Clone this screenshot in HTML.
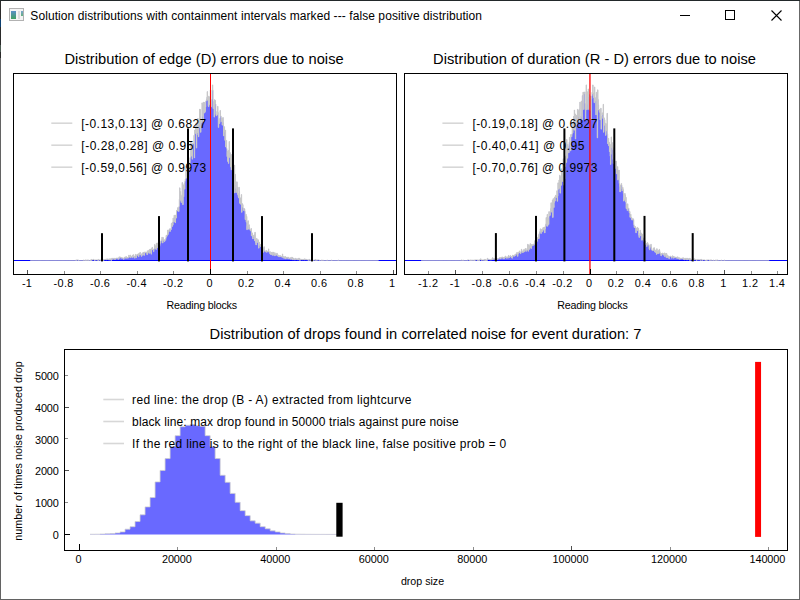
<!DOCTYPE html>
<html><head><meta charset="utf-8"><title>Solution distributions</title>
<style>html,body{margin:0;padding:0;background:#fff;overflow:hidden}svg{display:block}text{font-family:"Liberation Sans",sans-serif;fill:#000}</style>
</head><body>
<svg width="800" height="600" viewBox="0 0 800 600">
<rect x="0" y="0" width="800" height="600" fill="#fff"/>
<g shape-rendering="crispEdges">
<rect x="0" y="0" width="1" height="600" fill="#636363"/>
<rect x="0" y="0" width="1" height="58" fill="#2a2a2a"/>
<rect x="0" y="19" width="1" height="8" fill="#0c3f70"/>
<rect x="0" y="45" width="1" height="7" fill="#4a5a52"/>
<rect x="799" y="0" width="1" height="600" fill="#686868"/>
<rect x="0" y="599" width="800" height="1" fill="#626262"/>
<rect x="0" y="0" width="800" height="1" fill="#22282a"/>
</g>
<g>
<rect x="9.5" y="8.5" width="14" height="12" fill="#f4f4f4" stroke="#b2b2b2" stroke-width="1"/>
<defs><linearGradient id="ig" x1="0" y1="0" x2="0" y2="1"><stop offset="0" stop-color="#5b8fc7"/><stop offset="1" stop-color="#3fa060"/></linearGradient></defs>
<rect x="11" y="11" width="5" height="8" fill="url(#ig)"/>
<rect x="18" y="11" width="2" height="8" fill="#dcdcdc"/>
<rect x="21" y="11" width="2" height="5" fill="url(#ig)" opacity="0.8"/>
</g>
<text x="30.3" y="20" font-size="12" text-anchor="start" textLength="451.7" lengthAdjust="spacing" >Solution distributions with containment intervals marked --- false positive distribution</text>
<path d="M680,15.5 H690" stroke="#000" stroke-width="1" fill="none"/>
<rect x="725.5" y="10.5" width="9" height="9" stroke="#000" stroke-width="1" fill="none"/>
<path d="M771.5,10.5 L781.5,20.5 M781.5,10.5 L771.5,20.5" stroke="#000" stroke-width="1.1" fill="none"/>
<clipPath id="c1"><rect x="13.5" y="73.5" width="383" height="201"/></clipPath>
<g clip-path="url(#c1)">
<path d="M30.27,260.50 L30.27,260.50 30.62,260.50 30.62,260.50 30.97,260.50 30.97,260.50 31.32,260.50 31.32,260.50 31.67,260.50 31.67,260.50 32.01,260.50 32.01,260.50 32.36,260.50 32.36,260.50 32.71,260.50 32.71,260.50 33.06,260.50 33.06,260.50 33.41,260.50 33.41,260.50 33.76,260.50 33.76,260.50 34.10,260.50 34.10,260.50 34.45,260.50 34.45,260.50 34.80,260.50 34.80,260.50 35.15,260.50 35.15,260.50 35.50,260.50 35.50,260.50 35.85,260.50 35.85,260.50 36.19,260.50 36.19,260.50 36.54,260.50 36.54,260.50 36.89,260.50 36.89,260.50 37.24,260.50 37.24,260.50 37.59,260.50 37.59,260.50 37.93,260.50 37.93,260.50 38.28,260.50 38.28,260.50 38.63,260.50 38.63,260.50 38.98,260.50 38.98,260.50 39.33,260.50 39.33,260.50 39.68,260.50 39.68,260.50 40.02,260.50 40.02,260.50 40.37,260.50 40.37,260.50 40.72,260.50 40.72,260.50 41.07,260.50 41.07,260.50 41.42,260.50 41.42,260.50 41.77,260.50 41.77,260.50 42.11,260.50 42.11,260.50 42.46,260.50 42.46,260.50 42.81,260.50 42.81,260.50 43.16,260.50 43.16,260.50 43.51,260.50 43.51,260.50 43.85,260.50 43.85,260.50 44.20,260.50 44.20,260.50 44.55,260.50 44.55,260.50 44.90,260.50 44.90,260.50 45.25,260.50 45.25,260.50 45.60,260.50 45.60,260.50 45.94,260.50 45.94,260.50 46.29,260.50 46.29,260.50 46.64,260.50 46.64,260.50 46.99,260.50 46.99,260.50 47.34,260.50 47.34,260.50 47.68,260.50 47.68,260.50 48.03,260.50 48.03,260.50 48.38,260.50 48.38,260.50 48.73,260.50 48.73,260.50 49.08,260.50 49.08,260.50 49.43,260.50 49.43,260.50 49.77,260.50 49.77,260.50 50.12,260.50 50.12,260.50 50.47,260.50 50.47,260.50 50.82,260.50 50.82,260.50 51.17,260.50 51.17,260.50 51.52,260.50 51.52,260.50 51.86,260.50 51.86,260.50 52.21,260.50 52.21,260.50 52.56,260.50 52.56,260.50 52.91,260.50 52.91,260.50 53.26,260.50 53.26,260.50 53.60,260.50 53.60,260.50 53.95,260.50 53.95,260.50 54.30,260.50 54.30,260.50 54.65,260.50 54.65,260.50 55.00,260.50 55.00,260.50 55.35,260.50 55.35,260.50 55.69,260.50 55.69,260.50 56.04,260.50 56.04,260.50 56.39,260.50 56.39,260.50 56.74,260.50 56.74,260.50 57.09,260.50 57.09,260.50 57.43,260.50 57.43,260.50 57.78,260.50 57.78,260.50 58.13,260.50 58.13,260.50 58.48,260.50 58.48,260.50 58.83,260.50 58.83,260.50 59.18,260.50 59.18,260.50 59.52,260.50 59.52,260.50 59.87,260.50 59.87,260.50 60.22,260.50 60.22,260.50 60.57,260.50 60.57,260.50 60.92,260.50 60.92,260.50 61.27,260.50 61.27,260.50 61.61,260.50 61.61,260.50 61.96,260.50 61.96,260.50 62.31,260.50 62.31,260.50 62.66,260.50 62.66,260.50 63.01,260.50 63.01,260.50 63.35,260.50 63.35,260.50 63.70,260.50 63.70,260.50 64.05,260.50 64.05,260.50 64.40,260.50 64.40,260.50 64.75,260.50 64.75,260.50 65.10,260.50 65.10,260.50 65.44,260.50 65.44,260.50 65.79,260.50 65.79,260.50 66.14,260.50 66.14,260.50 66.49,260.50 66.49,260.50 66.84,260.50 66.84,260.50 67.18,260.50 67.18,260.50 67.53,260.50 67.53,260.50 67.88,260.50 67.88,260.50 68.23,260.50 68.23,260.50 68.58,260.50 68.58,260.50 68.93,260.50 68.93,260.50 69.27,260.50 69.27,260.50 69.62,260.50 69.62,260.50 69.97,260.50 69.97,260.50 70.32,260.50 70.32,260.50 70.67,260.50 70.67,260.50 71.02,260.50 71.02,260.50 71.36,260.50 71.36,260.50 71.71,260.50 71.71,260.50 72.06,260.50 72.06,260.50 72.41,260.50 72.41,260.50 72.76,260.50 72.76,260.50 73.10,260.50 73.10,260.50 73.45,260.50 73.45,260.50 73.80,260.50 73.80,260.50 74.15,260.50 74.15,260.50 74.50,260.50 74.50,260.50 74.85,260.50 74.85,260.50 75.19,260.50 75.19,260.50 75.54,260.50 75.54,260.50 75.89,260.50 75.89,259.93 76.24,259.93 76.24,260.50 76.59,260.50 76.59,259.93 76.94,259.93 76.94,259.93 77.28,259.93 77.28,259.93 77.63,259.93 77.63,259.93 77.98,259.93 77.98,260.50 78.33,260.50 78.33,259.93 78.68,259.93 78.68,260.50 79.02,260.50 79.02,260.50 79.37,260.50 79.37,260.50 79.72,260.50 79.72,260.50 80.07,260.50 80.07,260.50 80.42,260.50 80.42,260.50 80.77,260.50 80.77,260.50 81.11,260.50 81.11,260.50 81.46,260.50 81.46,260.50 81.81,260.50 81.81,260.50 82.16,260.50 82.16,260.50 82.51,260.50 82.51,260.50 82.85,260.50 82.85,260.50 83.20,260.50 83.20,260.50 83.55,260.50 83.55,259.93 83.90,259.93 83.90,260.50 84.25,260.50 84.25,260.50 84.60,260.50 84.60,260.50 84.94,260.50 84.94,259.93 85.29,259.93 85.29,260.50 85.64,260.50 85.64,259.93 85.99,259.93 85.99,260.50 86.34,260.50 86.34,260.50 86.69,260.50 86.69,259.93 87.03,259.93 87.03,260.50 87.38,260.50 87.38,259.93 87.73,259.93 87.73,259.93 88.08,259.93 88.08,260.50 88.43,260.50 88.43,259.93 88.77,259.93 88.77,260.50 89.12,260.50 89.12,260.50 89.47,260.50 89.47,260.50 89.82,260.50 89.82,260.50 90.17,260.50 90.17,259.93 90.52,259.93 90.52,260.50 90.86,260.50 90.86,259.93 91.21,259.93 91.21,260.50 91.56,260.50 91.56,259.36 91.91,259.36 91.91,259.93 92.26,259.93 92.26,259.93 92.60,259.93 92.60,259.93 92.95,259.93 92.95,259.93 93.30,259.93 93.30,259.36 93.65,259.36 93.65,259.36 94.00,259.36 94.00,259.93 94.35,259.93 94.35,260.50 94.69,260.50 94.69,260.50 95.04,260.50 95.04,259.93 95.39,259.93 95.39,259.93 95.74,259.93 95.74,259.93 96.09,259.93 96.09,259.93 96.44,259.93 96.44,259.93 96.78,259.93 96.78,259.93 97.13,259.93 97.13,259.93 97.48,259.93 97.48,259.93 97.83,259.93 97.83,260.50 98.18,260.50 98.18,259.36 98.52,259.36 98.52,260.50 98.87,260.50 98.87,259.93 99.22,259.93 99.22,259.93 99.57,259.93 99.57,259.93 99.92,259.93 99.92,259.93 100.27,259.93 100.27,260.50 100.61,260.50 100.61,259.93 100.96,259.93 100.96,259.93 101.31,259.93 101.31,258.79 101.66,258.79 101.66,259.93 102.01,259.93 102.01,259.93 102.35,259.93 102.35,259.93 102.70,259.93 102.70,259.93 103.05,259.93 103.05,260.50 103.40,260.50 103.40,259.93 103.75,259.93 103.75,259.36 104.10,259.36 104.10,259.93 104.44,259.93 104.44,259.36 104.79,259.36 104.79,259.93 105.14,259.93 105.14,259.36 105.49,259.36 105.49,259.36 105.84,259.36 105.84,259.36 106.19,259.36 106.19,259.36 106.53,259.36 106.53,259.93 106.88,259.93 106.88,258.79 107.23,258.79 107.23,259.36 107.58,259.36 107.58,259.36 107.93,259.36 107.93,259.36 108.27,259.36 108.27,259.36 108.62,259.36 108.62,259.93 108.97,259.93 108.97,258.79 109.32,258.79 109.32,259.93 109.67,259.93 109.67,259.93 110.02,259.93 110.02,259.93 110.36,259.93 110.36,258.79 110.71,258.79 110.71,259.36 111.06,259.36 111.06,260.50 111.41,260.50 111.41,258.79 111.76,258.79 111.76,258.22 112.11,258.22 112.11,258.22 112.45,258.22 112.45,259.36 112.80,259.36 112.80,258.79 113.15,258.79 113.15,258.79 113.50,258.79 113.50,258.22 113.85,258.22 113.85,258.79 114.19,258.79 114.19,259.36 114.54,259.36 114.54,258.22 114.89,258.22 114.89,258.22 115.24,258.22 115.24,259.36 115.59,259.36 115.59,258.79 115.94,258.79 115.94,258.22 116.28,258.22 116.28,258.22 116.63,258.22 116.63,258.22 116.98,258.22 116.98,258.22 117.33,258.22 117.33,258.22 117.68,258.22 117.68,258.22 118.02,258.22 118.02,259.36 118.37,259.36 118.37,258.22 118.72,258.22 118.72,257.65 119.07,257.65 119.07,256.81 119.42,256.81 119.42,258.22 119.77,258.22 119.77,258.22 120.11,258.22 120.11,257.08 120.46,257.08 120.46,257.04 120.81,257.04 120.81,257.65 121.16,257.65 121.16,257.65 121.51,257.65 121.51,258.22 121.86,258.22 121.86,257.65 122.20,257.65 122.20,258.22 122.55,258.22 122.55,258.22 122.90,258.22 122.90,258.22 123.25,258.22 123.25,258.22 123.60,258.22 123.60,259.36 123.94,259.36 123.94,258.22 124.29,258.22 124.29,257.08 124.64,257.08 124.64,257.65 124.99,257.65 124.99,258.22 125.34,258.22 125.34,257.08 125.69,257.08 125.69,256.86 126.03,256.86 126.03,256.62 126.38,256.62 126.38,258.22 126.73,258.22 126.73,257.08 127.08,257.08 127.08,257.65 127.43,257.65 127.43,257.65 127.77,257.65 127.77,258.22 128.12,258.22 128.12,257.08 128.47,257.08 128.47,257.65 128.82,257.65 128.82,255.00 129.17,255.00 129.17,257.08 129.52,257.08 129.52,257.08 129.86,257.08 129.86,256.80 130.21,256.80 130.21,254.96 130.56,254.96 130.56,257.65 130.91,257.65 130.91,256.62 131.26,256.62 131.26,257.08 131.61,257.08 131.61,256.46 131.95,256.46 131.95,256.51 132.30,256.51 132.30,255.19 132.65,255.19 132.65,257.65 133.00,257.65 133.00,255.85 133.35,255.85 133.35,254.63 133.69,254.63 133.69,256.82 134.04,256.82 134.04,256.12 134.39,256.12 134.39,256.78 134.74,256.78 134.74,258.22 135.09,258.22 135.09,256.05 135.44,256.05 135.44,254.32 135.78,254.32 135.78,255.07 136.13,255.07 136.13,257.65 136.48,257.65 136.48,254.98 136.83,254.98 136.83,255.26 137.18,255.26 137.18,254.08 137.53,254.08 137.53,254.62 137.87,254.62 137.87,255.60 138.22,255.60 138.22,254.35 138.57,254.35 138.57,256.76 138.92,256.76 138.92,253.04 139.27,253.04 139.27,254.63 139.61,254.63 139.61,253.28 139.96,253.28 139.96,252.37 140.31,252.37 140.31,254.89 140.66,254.89 140.66,254.69 141.01,254.69 141.01,255.14 141.36,255.14 141.36,256.41 141.70,256.41 141.70,253.80 142.05,253.80 142.05,253.59 142.40,253.59 142.40,255.24 142.75,255.24 142.75,252.68 143.10,252.68 143.10,252.43 143.44,252.43 143.44,252.36 143.79,252.36 143.79,255.19 144.14,255.19 144.14,255.34 144.49,255.34 144.49,252.38 144.84,252.38 144.84,251.89 145.19,251.89 145.19,252.96 145.53,252.96 145.53,252.40 145.88,252.40 145.88,252.48 146.23,252.48 146.23,252.18 146.58,252.18 146.58,252.81 146.93,252.81 146.93,254.73 147.28,254.73 147.28,250.77 147.62,250.77 147.62,253.22 147.97,253.22 147.97,251.86 148.32,251.86 148.32,252.07 148.67,252.07 148.67,250.41 149.02,250.41 149.02,253.32 149.36,253.32 149.36,249.39 149.71,249.39 149.71,250.33 150.06,250.33 150.06,249.88 150.41,249.88 150.41,249.03 150.76,249.03 150.76,252.91 151.11,252.91 151.11,254.18 151.45,254.18 151.45,249.19 151.80,249.19 151.80,247.97 152.15,247.97 152.15,247.29 152.50,247.29 152.50,249.95 152.85,249.95 152.85,249.12 153.19,249.12 153.19,249.97 153.54,249.97 153.54,251.69 153.89,251.69 153.89,249.27 154.24,249.27 154.24,248.34 154.59,248.34 154.59,244.44 154.94,244.44 154.94,248.00 155.28,248.00 155.28,245.83 155.63,245.83 155.63,248.79 155.98,248.79 155.98,249.49 156.33,249.49 156.33,243.15 156.68,243.15 156.68,247.55 157.03,247.55 157.03,245.35 157.37,245.35 157.37,242.95 157.72,242.95 157.72,247.77 158.07,247.77 158.07,247.26 158.42,247.26 158.42,243.65 158.77,243.65 158.77,244.44 159.11,244.44 159.11,246.35 159.46,246.35 159.46,246.24 159.81,246.24 159.81,244.30 160.16,244.30 160.16,241.72 160.51,241.72 160.51,243.02 160.86,243.02 160.86,241.10 161.20,241.10 161.20,239.74 161.55,239.74 161.55,240.11 161.90,240.11 161.90,237.17 162.25,237.17 162.25,238.89 162.60,238.89 162.60,243.04 162.94,243.04 162.94,237.52 163.29,237.52 163.29,239.85 163.64,239.85 163.64,240.54 163.99,240.54 163.99,241.17 164.34,241.17 164.34,241.63 164.69,241.63 164.69,239.75 165.03,239.75 165.03,239.07 165.38,239.07 165.38,240.32 165.73,240.32 165.73,238.45 166.08,238.45 166.08,235.42 166.43,235.42 166.43,236.91 166.78,236.91 166.78,235.00 167.12,235.00 167.12,235.35 167.47,235.35 167.47,230.04 167.82,230.04 167.82,234.53 168.17,234.53 168.17,230.54 168.52,230.54 168.52,232.14 168.86,232.14 168.86,229.86 169.21,229.86 169.21,229.57 169.56,229.57 169.56,228.82 169.91,228.82 169.91,231.48 170.26,231.48 170.26,230.16 170.61,230.16 170.61,228.78 170.95,228.78 170.95,229.50 171.30,229.50 171.30,223.49 171.65,223.49 171.65,223.34 172.00,223.34 172.00,226.44 172.35,226.44 172.35,222.10 172.70,222.10 172.70,225.21 173.04,225.21 173.04,217.95 173.39,217.95 173.39,220.57 173.74,220.57 173.74,221.91 174.09,221.91 174.09,215.16 174.44,215.16 174.44,217.33 174.78,217.33 174.78,221.99 175.13,221.99 175.13,222.76 175.48,222.76 175.48,214.99 175.83,214.99 175.83,217.86 176.18,217.86 176.18,218.09 176.53,218.09 176.53,210.60 176.87,210.60 176.87,210.22 177.22,210.22 177.22,211.02 177.57,211.02 177.57,207.84 177.92,207.84 177.92,207.60 178.27,207.60 178.27,208.05 178.61,208.05 178.61,211.55 178.96,211.55 178.96,206.38 179.31,206.38 179.31,199.21 179.66,199.21 179.66,187.82 180.01,187.82 180.01,200.42 180.36,200.42 180.36,191.46 180.70,191.46 180.70,194.62 181.05,194.62 181.05,202.50 181.40,202.50 181.40,195.77 181.75,195.77 181.75,200.34 182.10,200.34 182.10,182.45 182.45,182.45 182.45,188.10 182.79,188.10 182.79,204.68 183.14,204.68 183.14,184.94 183.49,184.94 183.49,196.76 183.84,196.76 183.84,184.64 184.19,184.64 184.19,183.28 184.53,183.28 184.53,189.14 184.88,189.14 184.88,181.24 185.23,181.24 185.23,179.24 185.58,179.24 185.58,178.74 185.93,178.74 185.93,166.34 186.28,166.34 186.28,176.45 186.62,176.45 186.62,177.91 186.97,177.91 186.97,168.22 187.32,168.22 187.32,175.52 187.67,175.52 187.67,163.45 188.02,163.45 188.02,162.66 188.36,162.66 188.36,157.57 188.71,157.57 188.71,162.73 189.06,162.73 189.06,168.93 189.41,168.93 189.41,164.85 189.76,164.85 189.76,169.29 190.11,169.29 190.11,157.82 190.45,157.82 190.45,157.07 190.80,157.07 190.80,141.69 191.15,141.69 191.15,155.90 191.50,155.90 191.50,149.91 191.85,149.91 191.85,148.75 192.20,148.75 192.20,159.17 192.54,159.17 192.54,142.92 192.89,142.92 192.89,143.58 193.24,143.58 193.24,144.03 193.59,144.03 193.59,143.51 193.94,143.51 193.94,135.36 194.28,135.36 194.28,157.92 194.63,157.92 194.63,130.01 194.98,130.01 194.98,133.60 195.33,133.60 195.33,129.69 195.68,129.69 195.68,126.59 196.03,126.59 196.03,122.74 196.37,122.74 196.37,148.07 196.72,148.07 196.72,135.09 197.07,135.09 197.07,127.06 197.42,127.06 197.42,132.92 197.77,132.92 197.77,118.37 198.11,118.37 198.11,127.48 198.46,127.48 198.46,136.75 198.81,136.75 198.81,120.61 199.16,120.61 199.16,124.99 199.51,124.99 199.51,109.26 199.86,109.26 199.86,127.88 200.20,127.88 200.20,109.59 200.55,109.59 200.55,132.33 200.90,132.33 200.90,120.52 201.25,120.52 201.25,122.96 201.60,122.96 201.60,122.67 201.95,122.67 201.95,102.84 202.29,102.84 202.29,104.56 202.64,104.56 202.64,116.29 202.99,116.29 202.99,122.14 203.34,122.14 203.34,103.25 203.69,103.25 203.69,102.07 204.03,102.07 204.03,113.11 204.38,113.11 204.38,102.59 204.73,102.59 204.73,112.39 205.08,112.39 205.08,111.40 205.43,111.40 205.43,106.97 205.78,106.97 205.78,101.31 206.12,101.31 206.12,100.57 206.47,100.57 206.47,99.13 206.82,99.13 206.82,97.17 207.17,97.17 207.17,91.59 207.52,91.59 207.52,100.26 207.87,100.26 207.87,95.96 208.21,95.96 208.21,106.20 208.56,106.20 208.56,106.64 208.91,106.64 208.91,97.03 209.26,97.03 209.26,104.42 209.61,104.42 209.61,96.66 209.95,96.66 209.95,103.61 210.30,103.61 210.30,89.86 210.65,89.86 210.65,100.29 211.00,100.29 211.00,100.40 211.35,100.40 211.35,106.81 211.70,106.81 211.70,99.54 212.04,99.54 212.04,90.07 212.39,90.07 212.39,84.90 212.74,84.90 212.74,90.28 213.09,90.28 213.09,108.59 213.44,108.59 213.44,107.18 213.78,107.18 213.78,101.54 214.13,101.54 214.13,117.12 214.48,117.12 214.48,99.71 214.83,99.71 214.83,100.41 215.18,100.41 215.18,100.45 215.53,100.45 215.53,104.01 215.87,104.01 215.87,114.57 216.22,114.57 216.22,115.89 216.57,115.89 216.57,115.43 216.92,115.43 216.92,111.32 217.27,111.32 217.27,114.62 217.62,114.62 217.62,106.25 217.96,106.25 217.96,112.56 218.31,112.56 218.31,127.45 218.66,127.45 218.66,120.73 219.01,120.73 219.01,118.65 219.36,118.65 219.36,123.56 219.70,123.56 219.70,122.38 220.05,122.38 220.05,110.41 220.40,110.41 220.40,115.96 220.75,115.96 220.75,115.93 221.10,115.93 221.10,117.73 221.45,117.73 221.45,121.53 221.79,121.53 221.79,118.28 222.14,118.28 222.14,125.15 222.49,125.15 222.49,122.56 222.84,122.56 222.84,117.48 223.19,117.48 223.19,122.68 223.53,122.68 223.53,135.93 223.88,135.93 223.88,129.18 224.23,129.18 224.23,126.70 224.58,126.70 224.58,132.24 224.93,132.24 224.93,140.44 225.28,140.44 225.28,130.12 225.62,130.12 225.62,146.96 225.97,146.96 225.97,144.92 226.32,144.92 226.32,140.40 226.67,140.40 226.67,148.36 227.02,148.36 227.02,156.66 227.37,156.66 227.37,151.58 227.71,151.58 227.71,161.43 228.06,161.43 228.06,150.28 228.41,150.28 228.41,163.41 228.76,163.41 228.76,152.66 229.11,152.66 229.11,141.47 229.45,141.47 229.45,157.40 229.80,157.40 229.80,152.59 230.15,152.59 230.15,154.77 230.50,154.77 230.50,167.00 230.85,167.00 230.85,164.82 231.20,164.82 231.20,169.83 231.54,169.83 231.54,154.53 231.89,154.53 231.89,168.97 232.24,168.97 232.24,159.78 232.59,159.78 232.59,172.04 232.94,172.04 232.94,177.53 233.29,177.53 233.29,174.66 233.63,174.66 233.63,165.47 233.98,165.47 233.98,183.71 234.33,183.71 234.33,165.11 234.68,165.11 234.68,192.99 235.03,192.99 235.03,174.31 235.37,174.31 235.37,185.11 235.72,185.11 235.72,188.39 236.07,188.39 236.07,192.44 236.42,192.44 236.42,190.36 236.77,190.36 236.77,181.77 237.12,181.77 237.12,187.13 237.46,187.13 237.46,194.49 237.81,194.49 237.81,193.35 238.16,193.35 238.16,196.63 238.51,196.63 238.51,198.00 238.86,198.00 238.86,187.27 239.20,187.27 239.20,191.58 239.55,191.58 239.55,203.23 239.90,203.23 239.90,199.35 240.25,199.35 240.25,197.84 240.60,197.84 240.60,204.22 240.95,204.22 240.95,202.22 241.29,202.22 241.29,194.56 241.64,194.56 241.64,212.34 241.99,212.34 241.99,203.61 242.34,203.61 242.34,206.91 242.69,206.91 242.69,204.59 243.04,204.59 243.04,208.17 243.38,208.17 243.38,210.48 243.73,210.48 243.73,208.22 244.08,208.22 244.08,208.67 244.43,208.67 244.43,208.83 244.78,208.83 244.78,211.13 245.12,211.13 245.12,219.53 245.47,219.53 245.47,219.75 245.82,219.75 245.82,214.27 246.17,214.27 246.17,222.18 246.52,222.18 246.52,216.36 246.87,216.36 246.87,229.73 247.21,229.73 247.21,225.91 247.56,225.91 247.56,222.33 247.91,222.33 247.91,220.71 248.26,220.71 248.26,229.15 248.61,229.15 248.61,225.70 248.95,225.70 248.95,224.80 249.30,224.80 249.30,227.59 249.65,227.59 249.65,229.21 250.00,229.21 250.00,230.03 250.35,230.03 250.35,231.02 250.70,231.02 250.70,230.54 251.04,230.54 251.04,228.51 251.39,228.51 251.39,235.90 251.74,235.90 251.74,233.80 252.09,233.80 252.09,232.89 252.44,232.89 252.44,236.77 252.79,236.77 252.79,238.94 253.13,238.94 253.13,235.38 253.48,235.38 253.48,236.48 253.83,236.48 253.83,236.94 254.18,236.94 254.18,234.71 254.53,234.71 254.53,240.81 254.87,240.81 254.87,232.26 255.22,232.26 255.22,239.75 255.57,239.75 255.57,242.85 255.92,242.85 255.92,244.95 256.27,244.95 256.27,242.81 256.62,242.81 256.62,238.37 256.96,238.37 256.96,239.41 257.31,239.41 257.31,240.70 257.66,240.70 257.66,242.49 258.01,242.49 258.01,239.86 258.36,239.86 258.36,245.31 258.70,245.31 258.70,248.15 259.05,248.15 259.05,242.09 259.40,242.09 259.40,245.23 259.75,245.23 259.75,245.02 260.10,245.02 260.10,244.37 260.45,244.37 260.45,246.50 260.79,246.50 260.79,245.12 261.14,245.12 261.14,247.02 261.49,247.02 261.49,249.88 261.84,249.88 261.84,246.30 262.19,246.30 262.19,247.15 262.54,247.15 262.54,248.03 262.88,248.03 262.88,248.29 263.23,248.29 263.23,252.29 263.58,252.29 263.58,250.16 263.93,250.16 263.93,246.73 264.28,246.73 264.28,250.64 264.62,250.64 264.62,250.53 264.97,250.53 264.97,251.76 265.32,251.76 265.32,251.74 265.67,251.74 265.67,250.88 266.02,250.88 266.02,250.95 266.37,250.95 266.37,250.43 266.71,250.43 266.71,252.38 267.06,252.38 267.06,251.08 267.41,251.08 267.41,251.47 267.76,251.47 267.76,251.59 268.11,251.59 268.11,251.29 268.46,251.29 268.46,248.88 268.80,248.88 268.80,251.91 269.15,251.91 269.15,252.44 269.50,252.44 269.50,253.30 269.85,253.30 269.85,251.61 270.20,251.61 270.20,254.22 270.54,254.22 270.54,254.39 270.89,254.39 270.89,254.19 271.24,254.19 271.24,252.49 271.59,252.49 271.59,254.70 271.94,254.70 271.94,252.09 272.29,252.09 272.29,253.49 272.63,253.49 272.63,255.37 272.98,255.37 272.98,254.42 273.33,254.42 273.33,252.11 273.68,252.11 273.68,254.52 274.03,254.52 274.03,255.77 274.37,255.77 274.37,254.06 274.72,254.06 274.72,252.66 275.07,252.66 275.07,253.71 275.42,253.71 275.42,255.59 275.77,255.59 275.77,254.66 276.12,254.66 276.12,255.06 276.46,255.06 276.46,254.19 276.81,254.19 276.81,253.09 277.16,253.09 277.16,255.63 277.51,255.63 277.51,254.48 277.86,254.48 277.86,256.17 278.21,256.17 278.21,255.35 278.55,255.35 278.55,256.53 278.90,256.53 278.90,256.89 279.25,256.89 279.25,255.81 279.60,255.81 279.60,256.57 279.95,256.57 279.95,255.55 280.29,255.55 280.29,256.54 280.64,256.54 280.64,256.09 280.99,256.09 280.99,256.62 281.34,256.62 281.34,257.08 281.69,257.08 281.69,256.48 282.04,256.48 282.04,255.69 282.38,255.69 282.38,253.96 282.73,253.96 282.73,257.65 283.08,257.65 283.08,256.52 283.43,256.52 283.43,256.97 283.78,256.97 283.78,258.22 284.12,258.22 284.12,256.73 284.47,256.73 284.47,258.22 284.82,258.22 284.82,257.65 285.17,257.65 285.17,256.47 285.52,256.47 285.52,258.79 285.87,258.79 285.87,257.08 286.21,257.08 286.21,257.65 286.56,257.65 286.56,258.22 286.91,258.22 286.91,257.08 287.26,257.08 287.26,257.65 287.61,257.65 287.61,258.22 287.96,258.22 287.96,257.08 288.30,257.08 288.30,258.79 288.65,258.79 288.65,257.65 289.00,257.65 289.00,258.22 289.35,258.22 289.35,258.79 289.70,258.79 289.70,258.22 290.04,258.22 290.04,258.22 290.39,258.22 290.39,257.65 290.74,257.65 290.74,259.36 291.09,259.36 291.09,258.79 291.44,258.79 291.44,258.79 291.79,258.79 291.79,257.08 292.13,257.08 292.13,259.36 292.48,259.36 292.48,257.65 292.83,257.65 292.83,259.93 293.18,259.93 293.18,258.22 293.53,258.22 293.53,258.79 293.87,258.79 293.87,258.79 294.22,258.79 294.22,258.79 294.57,258.79 294.57,259.93 294.92,259.93 294.92,259.93 295.27,259.93 295.27,258.22 295.62,258.22 295.62,258.79 295.96,258.79 295.96,259.36 296.31,259.36 296.31,258.79 296.66,258.79 296.66,259.36 297.01,259.36 297.01,259.36 297.36,259.36 297.36,259.93 297.71,259.93 297.71,258.79 298.05,258.79 298.05,258.22 298.40,258.22 298.40,259.93 298.75,259.93 298.75,259.36 299.10,259.36 299.10,258.79 299.45,258.79 299.45,258.22 299.79,258.22 299.79,260.50 300.14,260.50 300.14,259.36 300.49,259.36 300.49,259.36 300.84,259.36 300.84,259.93 301.19,259.93 301.19,259.36 301.54,259.36 301.54,259.36 301.88,259.36 301.88,259.36 302.23,259.36 302.23,259.93 302.58,259.93 302.58,259.36 302.93,259.36 302.93,259.93 303.28,259.93 303.28,259.36 303.63,259.36 303.63,259.36 303.97,259.36 303.97,259.93 304.32,259.93 304.32,259.93 304.67,259.93 304.67,258.79 305.02,258.79 305.02,259.36 305.37,259.36 305.37,259.36 305.71,259.36 305.71,259.93 306.06,259.93 306.06,259.93 306.41,259.93 306.41,259.36 306.76,259.36 306.76,259.36 307.11,259.36 307.11,259.93 307.46,259.93 307.46,259.93 307.80,259.93 307.80,259.93 308.15,259.93 308.15,259.93 308.50,259.93 308.50,260.50 308.85,260.50 308.85,259.36 309.20,259.36 309.20,259.36 309.54,259.36 309.54,259.93 309.89,259.93 309.89,260.50 310.24,260.50 310.24,259.93 310.59,259.93 310.59,259.93 310.94,259.93 310.94,259.93 311.29,259.93 311.29,259.93 311.63,259.93 311.63,259.93 311.98,259.93 311.98,259.93 312.33,259.93 312.33,260.50 312.68,260.50 312.68,260.50 313.03,260.50 313.03,260.50 313.38,260.50 313.38,260.50 313.72,260.50 313.72,259.93 314.07,259.93 314.07,259.93 314.42,259.93 314.42,259.93 314.77,259.93 314.77,259.93 315.12,259.93 315.12,260.50 315.46,260.50 315.46,259.36 315.81,259.36 315.81,259.93 316.16,259.93 316.16,259.93 316.51,259.93 316.51,260.50 316.86,260.50 316.86,260.50 317.21,260.50 317.21,259.93 317.55,259.93 317.55,259.93 317.90,259.93 317.90,259.93 318.25,259.93 318.25,259.93 318.60,259.93 318.60,259.93 318.95,259.93 318.95,259.93 319.29,259.93 319.29,260.50 319.64,260.50 319.64,260.50 319.99,260.50 319.99,260.50 320.34,260.50 320.34,260.50 320.69,260.50 320.69,260.50 321.04,260.50 321.04,260.50 321.38,260.50 321.38,259.93 321.73,259.93 321.73,260.50 322.08,260.50 322.08,260.50 322.43,260.50 322.43,260.50 322.78,260.50 322.78,259.93 323.13,259.93 323.13,260.50 323.47,260.50 323.47,260.50 323.82,260.50 323.82,260.50 324.17,260.50 324.17,260.50 324.52,260.50 324.52,260.50 324.87,260.50 324.87,260.50 325.21,260.50 325.21,260.50 325.56,260.50 325.56,260.50 325.91,260.50 325.91,260.50 326.26,260.50 326.26,260.50 326.61,260.50 326.61,260.50 326.96,260.50 326.96,259.93 327.30,259.93 327.30,260.50 327.65,260.50 327.65,260.50 328.00,260.50 328.00,260.50 328.35,260.50 328.35,260.50 328.70,260.50 328.70,260.50 329.05,260.50 329.05,260.50 329.39,260.50 329.39,260.50 329.74,260.50 329.74,260.50 330.09,260.50 330.09,260.50 330.44,260.50 330.44,260.50 330.79,260.50 330.79,260.50 331.13,260.50 331.13,260.50 331.48,260.50 331.48,259.93 331.83,259.93 331.83,260.50 332.18,260.50 332.18,260.50 332.53,260.50 332.53,260.50 332.88,260.50 332.88,260.50 333.22,260.50 333.22,260.50 333.57,260.50 333.57,260.50 333.92,260.50 333.92,260.50 334.27,260.50 334.27,260.50 334.62,260.50 334.62,260.50 334.96,260.50 334.96,260.50 335.31,260.50 335.31,260.50 335.66,260.50 335.66,260.50 336.01,260.50 336.01,260.50 336.36,260.50 336.36,260.50 336.71,260.50 336.71,260.50 337.05,260.50 337.05,260.50 337.40,260.50 337.40,260.50 337.75,260.50 337.75,260.50 338.10,260.50 338.10,259.93 338.45,259.93 338.45,260.50 338.80,260.50 338.80,260.50 339.14,260.50 339.14,260.50 339.49,260.50 339.49,260.50 339.84,260.50 339.84,260.50 340.19,260.50 340.19,260.50 340.54,260.50 340.54,260.50 340.88,260.50 340.88,260.50 341.23,260.50 341.23,260.50 341.58,260.50 341.58,260.50 341.93,260.50 341.93,260.50 342.28,260.50 342.28,260.50 342.63,260.50 342.63,260.50 342.97,260.50 342.97,260.50 343.32,260.50 343.32,260.50 343.67,260.50 343.67,260.50 344.02,260.50 344.02,260.50 344.37,260.50 344.37,260.50 344.71,260.50 344.71,260.50 345.06,260.50 345.06,260.50 345.41,260.50 345.41,260.50 345.76,260.50 345.76,260.50 346.11,260.50 346.11,260.50 346.46,260.50 346.46,260.50 346.80,260.50 346.80,260.50 347.15,260.50 347.15,260.50 347.50,260.50 347.50,260.50 347.85,260.50 347.85,260.50 348.20,260.50 348.20,260.50 348.55,260.50 348.55,260.50 348.89,260.50 348.89,260.50 349.24,260.50 349.24,260.50 349.59,260.50 349.59,260.50 349.94,260.50 349.94,260.50 350.29,260.50 350.29,260.50 350.63,260.50 350.63,260.50 350.98,260.50 350.98,260.50 351.33,260.50 351.33,260.50 351.68,260.50 351.68,260.50 352.03,260.50 352.03,260.50 352.38,260.50 352.38,260.50 352.72,260.50 352.72,260.50 353.07,260.50 353.07,260.50 353.42,260.50 353.42,260.50 353.77,260.50 353.77,260.50 354.12,260.50 354.12,260.50 354.46,260.50 354.46,260.50 354.81,260.50 354.81,260.50 355.16,260.50 355.16,260.50 355.51,260.50 355.51,260.50 355.86,260.50 355.86,260.50 356.21,260.50 356.21,260.50 356.55,260.50 356.55,260.50 356.90,260.50 356.90,260.50 357.25,260.50 357.25,260.50 357.60,260.50 357.60,260.50 357.95,260.50 357.95,260.50 358.30,260.50 358.30,260.50 358.64,260.50 358.64,260.50 358.99,260.50 358.99,260.50 359.34,260.50 359.34,260.50 359.69,260.50 359.69,260.50 360.04,260.50 360.04,260.50 360.38,260.50 360.38,260.50 360.73,260.50 360.73,260.50 361.08,260.50 361.08,260.50 361.43,260.50 361.43,260.50 361.78,260.50 361.78,260.50 362.13,260.50 362.13,260.50 362.47,260.50 362.47,260.50 362.82,260.50 362.82,260.50 363.17,260.50 363.17,260.50 363.52,260.50 363.52,260.50 363.87,260.50 363.87,260.50 364.22,260.50 364.22,260.50 364.56,260.50 364.56,260.50 364.91,260.50 364.91,260.50 365.26,260.50 365.26,260.50 365.61,260.50 365.61,260.50 365.96,260.50 365.96,260.50 366.30,260.50 366.30,260.50 366.65,260.50 366.65,260.50 367.00,260.50 367.00,260.50 367.35,260.50 367.35,260.50 367.70,260.50 367.70,260.50 368.05,260.50 368.05,260.50 368.39,260.50 368.39,260.50 368.74,260.50 368.74,260.50 369.09,260.50 369.09,260.50 369.44,260.50 369.44,260.50 369.79,260.50 369.79,260.50 370.13,260.50 370.13,260.50 370.48,260.50 370.48,260.50 370.83,260.50 370.83,260.50 371.18,260.50 371.18,260.50 371.53,260.50 371.53,260.50 371.88,260.50 371.88,260.50 372.22,260.50 372.22,260.50 372.57,260.50 372.57,260.50 372.92,260.50 372.92,260.50 373.27,260.50 373.27,260.50 373.62,260.50 373.62,260.50 373.97,260.50 373.97,260.50 374.31,260.50 374.31,260.50 374.66,260.50 374.66,260.50 375.01,260.50 375.01,260.50 375.36,260.50 375.36,260.50 375.71,260.50 375.71,260.50 376.05,260.50 376.05,260.50 376.40,260.50 376.40,260.50 376.75,260.50 376.75,260.50 377.10,260.50 377.10,260.50 377.45,260.50 377.45,260.50 377.80,260.50 377.80,260.50 378.14,260.50 378.14,260.50 378.49,260.50 L378.49,260.50 Z" fill="rgb(105,105,255)" stroke="none"/>
<rect x="13" y="260" width="384" height="1" fill="#0000ff" shape-rendering="crispEdges"/>
<path d="M30.27,260.50 30.62,260.50 30.62,260.50 30.97,260.50 30.97,260.50 31.32,260.50 31.32,260.50 31.67,260.50 31.67,260.50 32.01,260.50 32.01,260.50 32.36,260.50 32.36,260.50 32.71,260.50 32.71,260.50 33.06,260.50 33.06,260.50 33.41,260.50 33.41,260.50 33.76,260.50 33.76,260.50 34.10,260.50 34.10,260.50 34.45,260.50 34.45,260.50 34.80,260.50 34.80,260.50 35.15,260.50 35.15,260.50 35.50,260.50 35.50,260.50 35.85,260.50 35.85,260.50 36.19,260.50 36.19,260.50 36.54,260.50 36.54,260.50 36.89,260.50 36.89,260.50 37.24,260.50 37.24,260.50 37.59,260.50 37.59,260.50 37.93,260.50 37.93,260.50 38.28,260.50 38.28,260.50 38.63,260.50 38.63,260.50 38.98,260.50 38.98,260.50 39.33,260.50 39.33,260.50 39.68,260.50 39.68,260.50 40.02,260.50 40.02,260.50 40.37,260.50 40.37,260.50 40.72,260.50 40.72,260.50 41.07,260.50 41.07,260.50 41.42,260.50 41.42,260.50 41.77,260.50 41.77,260.50 42.11,260.50 42.11,260.50 42.46,260.50 42.46,260.50 42.81,260.50 42.81,260.50 43.16,260.50 43.16,260.50 43.51,260.50 43.51,260.50 43.85,260.50 43.85,260.50 44.20,260.50 44.20,260.50 44.55,260.50 44.55,260.50 44.90,260.50 44.90,260.50 45.25,260.50 45.25,260.50 45.60,260.50 45.60,260.50 45.94,260.50 45.94,260.50 46.29,260.50 46.29,260.50 46.64,260.50 46.64,260.50 46.99,260.50 46.99,260.50 47.34,260.50 47.34,260.50 47.68,260.50 47.68,260.50 48.03,260.50 48.03,260.50 48.38,260.50 48.38,260.50 48.73,260.50 48.73,260.50 49.08,260.50 49.08,260.50 49.43,260.50 49.43,260.50 49.77,260.50 49.77,260.50 50.12,260.50 50.12,260.50 50.47,260.50 50.47,260.50 50.82,260.50 50.82,260.50 51.17,260.50 51.17,260.50 51.52,260.50 51.52,260.50 51.86,260.50 51.86,260.50 52.21,260.50 52.21,260.50 52.56,260.50 52.56,260.50 52.91,260.50 52.91,260.50 53.26,260.50 53.26,260.50 53.60,260.50 53.60,260.50 53.95,260.50 53.95,260.50 54.30,260.50 54.30,260.50 54.65,260.50 54.65,260.50 55.00,260.50 55.00,260.50 55.35,260.50 55.35,260.50 55.69,260.50 55.69,260.50 56.04,260.50 56.04,260.50 56.39,260.50 56.39,260.50 56.74,260.50 56.74,260.50 57.09,260.50 57.09,260.50 57.43,260.50 57.43,260.50 57.78,260.50 57.78,260.50 58.13,260.50 58.13,260.50 58.48,260.50 58.48,260.50 58.83,260.50 58.83,260.50 59.18,260.50 59.18,260.50 59.52,260.50 59.52,260.50 59.87,260.50 59.87,260.50 60.22,260.50 60.22,260.50 60.57,260.50 60.57,260.50 60.92,260.50 60.92,260.50 61.27,260.50 61.27,260.50 61.61,260.50 61.61,260.50 61.96,260.50 61.96,260.50 62.31,260.50 62.31,260.50 62.66,260.50 62.66,260.50 63.01,260.50 63.01,260.50 63.35,260.50 63.35,260.50 63.70,260.50 63.70,260.50 64.05,260.50 64.05,260.50 64.40,260.50 64.40,260.50 64.75,260.50 64.75,260.50 65.10,260.50 65.10,260.50 65.44,260.50 65.44,260.50 65.79,260.50 65.79,260.50 66.14,260.50 66.14,260.50 66.49,260.50 66.49,260.50 66.84,260.50 66.84,260.50 67.18,260.50 67.18,260.50 67.53,260.50 67.53,260.50 67.88,260.50 67.88,260.50 68.23,260.50 68.23,260.50 68.58,260.50 68.58,260.50 68.93,260.50 68.93,260.50 69.27,260.50 69.27,260.50 69.62,260.50 69.62,260.50 69.97,260.50 69.97,260.50 70.32,260.50 70.32,260.50 70.67,260.50 70.67,260.50 71.02,260.50 71.02,260.50 71.36,260.50 71.36,260.50 71.71,260.50 71.71,260.50 72.06,260.50 72.06,260.50 72.41,260.50 72.41,260.50 72.76,260.50 72.76,260.50 73.10,260.50 73.10,260.50 73.45,260.50 73.45,260.50 73.80,260.50 73.80,260.50 74.15,260.50 74.15,260.50 74.50,260.50 74.50,260.50 74.85,260.50 74.85,260.50 75.19,260.50 75.19,260.50 75.54,260.50 75.54,260.50 75.89,260.50 75.89,259.93 76.24,259.93 76.24,260.50 76.59,260.50 76.59,259.93 76.94,259.93 76.94,259.93 77.28,259.93 77.28,259.93 77.63,259.93 77.63,259.93 77.98,259.93 77.98,260.50 78.33,260.50 78.33,259.93 78.68,259.93 78.68,260.50 79.02,260.50 79.02,260.50 79.37,260.50 79.37,260.50 79.72,260.50 79.72,260.50 80.07,260.50 80.07,260.50 80.42,260.50 80.42,260.50 80.77,260.50 80.77,260.50 81.11,260.50 81.11,260.50 81.46,260.50 81.46,260.50 81.81,260.50 81.81,260.50 82.16,260.50 82.16,260.50 82.51,260.50 82.51,260.50 82.85,260.50 82.85,260.50 83.20,260.50 83.20,260.50 83.55,260.50 83.55,259.93 83.90,259.93 83.90,260.50 84.25,260.50 84.25,260.50 84.60,260.50 84.60,260.50 84.94,260.50 84.94,259.93 85.29,259.93 85.29,260.50 85.64,260.50 85.64,259.93 85.99,259.93 85.99,260.50 86.34,260.50 86.34,260.50 86.69,260.50 86.69,259.93 87.03,259.93 87.03,260.50 87.38,260.50 87.38,259.93 87.73,259.93 87.73,259.93 88.08,259.93 88.08,260.50 88.43,260.50 88.43,259.93 88.77,259.93 88.77,260.50 89.12,260.50 89.12,260.50 89.47,260.50 89.47,260.50 89.82,260.50 89.82,260.50 90.17,260.50 90.17,259.93 90.52,259.93 90.52,260.50 90.86,260.50 90.86,259.93 91.21,259.93 91.21,260.50 91.56,260.50 91.56,259.36 91.91,259.36 91.91,259.93 92.26,259.93 92.26,259.93 92.60,259.93 92.60,259.93 92.95,259.93 92.95,259.93 93.30,259.93 93.30,259.36 93.65,259.36 93.65,259.36 94.00,259.36 94.00,259.93 94.35,259.93 94.35,260.50 94.69,260.50 94.69,260.50 95.04,260.50 95.04,259.93 95.39,259.93 95.39,259.93 95.74,259.93 95.74,259.93 96.09,259.93 96.09,259.93 96.44,259.93 96.44,259.93 96.78,259.93 96.78,259.93 97.13,259.93 97.13,259.93 97.48,259.93 97.48,259.93 97.83,259.93 97.83,260.50 98.18,260.50 98.18,259.36 98.52,259.36 98.52,260.50 98.87,260.50 98.87,259.93 99.22,259.93 99.22,259.93 99.57,259.93 99.57,259.93 99.92,259.93 99.92,259.93 100.27,259.93 100.27,260.50 100.61,260.50 100.61,259.93 100.96,259.93 100.96,259.93 101.31,259.93 101.31,258.79 101.66,258.79 101.66,259.93 102.01,259.93 102.01,259.93 102.35,259.93 102.35,259.93 102.70,259.93 102.70,259.93 103.05,259.93 103.05,260.50 103.40,260.50 103.40,259.93 103.75,259.93 103.75,259.36 104.10,259.36 104.10,259.93 104.44,259.93 104.44,259.36 104.79,259.36 104.79,259.93 105.14,259.93 105.14,259.36 105.49,259.36 105.49,259.36 105.84,259.36 105.84,259.36 106.19,259.36 106.19,259.36 106.53,259.36 106.53,259.93 106.88,259.93 106.88,258.79 107.23,258.79 107.23,259.36 107.58,259.36 107.58,259.36 107.93,259.36 107.93,259.36 108.27,259.36 108.27,259.36 108.62,259.36 108.62,259.93 108.97,259.93 108.97,258.79 109.32,258.79 109.32,259.93 109.67,259.93 109.67,259.93 110.02,259.93 110.02,259.93 110.36,259.93 110.36,258.79 110.71,258.79 110.71,259.36 111.06,259.36 111.06,260.50 111.41,260.50 111.41,258.79 111.76,258.79 111.76,258.22 112.11,258.22 112.11,258.22 112.45,258.22 112.45,259.36 112.80,259.36 112.80,258.79 113.15,258.79 113.15,258.79 113.50,258.79 113.50,258.22 113.85,258.22 113.85,258.79 114.19,258.79 114.19,259.36 114.54,259.36 114.54,258.22 114.89,258.22 114.89,258.22 115.24,258.22 115.24,259.36 115.59,259.36 115.59,258.79 115.94,258.79 115.94,258.22 116.28,258.22 116.28,258.22 116.63,258.22 116.63,258.22 116.98,258.22 116.98,258.22 117.33,258.22 117.33,258.22 117.68,258.22 117.68,258.22 118.02,258.22 118.02,259.36 118.37,259.36 118.37,258.22 118.72,258.22 118.72,257.65 119.07,257.65 119.07,256.81 119.42,256.81 119.42,258.22 119.77,258.22 119.77,258.22 120.11,258.22 120.11,257.08 120.46,257.08 120.46,257.04 120.81,257.04 120.81,257.65 121.16,257.65 121.16,257.65 121.51,257.65 121.51,258.22 121.86,258.22 121.86,257.65 122.20,257.65 122.20,258.22 122.55,258.22 122.55,258.22 122.90,258.22 122.90,258.22 123.25,258.22 123.25,258.22 123.60,258.22 123.60,259.36 123.94,259.36 123.94,258.22 124.29,258.22 124.29,257.08 124.64,257.08 124.64,257.65 124.99,257.65 124.99,258.22 125.34,258.22 125.34,257.08 125.69,257.08 125.69,256.86 126.03,256.86 126.03,256.62 126.38,256.62 126.38,258.22 126.73,258.22 126.73,257.08 127.08,257.08 127.08,257.65 127.43,257.65 127.43,257.65 127.77,257.65 127.77,258.22 128.12,258.22 128.12,257.08 128.47,257.08 128.47,257.65 128.82,257.65 128.82,255.00 129.17,255.00 129.17,257.08 129.52,257.08 129.52,257.08 129.86,257.08 129.86,256.80 130.21,256.80 130.21,254.96 130.56,254.96 130.56,257.65 130.91,257.65 130.91,256.62 131.26,256.62 131.26,257.08 131.61,257.08 131.61,256.46 131.95,256.46 131.95,256.51 132.30,256.51 132.30,255.19 132.65,255.19 132.65,257.65 133.00,257.65 133.00,255.85 133.35,255.85 133.35,254.63 133.69,254.63 133.69,256.82 134.04,256.82 134.04,256.12 134.39,256.12 134.39,256.78 134.74,256.78 134.74,258.22 135.09,258.22 135.09,256.05 135.44,256.05 135.44,254.32 135.78,254.32 135.78,255.07 136.13,255.07 136.13,257.65 136.48,257.65 136.48,254.98 136.83,254.98 136.83,255.26 137.18,255.26 137.18,254.08 137.53,254.08 137.53,254.62 137.87,254.62 137.87,255.60 138.22,255.60 138.22,254.35 138.57,254.35 138.57,256.76 138.92,256.76 138.92,253.04 139.27,253.04 139.27,254.63 139.61,254.63 139.61,253.28 139.96,253.28 139.96,252.37 140.31,252.37 140.31,254.89 140.66,254.89 140.66,254.69 141.01,254.69 141.01,255.14 141.36,255.14 141.36,256.41 141.70,256.41 141.70,253.80 142.05,253.80 142.05,253.59 142.40,253.59 142.40,255.24 142.75,255.24 142.75,252.68 143.10,252.68 143.10,252.43 143.44,252.43 143.44,252.36 143.79,252.36 143.79,255.19 144.14,255.19 144.14,255.34 144.49,255.34 144.49,252.38 144.84,252.38 144.84,251.89 145.19,251.89 145.19,252.96 145.53,252.96 145.53,252.40 145.88,252.40 145.88,252.48 146.23,252.48 146.23,252.18 146.58,252.18 146.58,252.81 146.93,252.81 146.93,254.73 147.28,254.73 147.28,250.77 147.62,250.77 147.62,253.22 147.97,253.22 147.97,251.86 148.32,251.86 148.32,252.07 148.67,252.07 148.67,250.41 149.02,250.41 149.02,253.32 149.36,253.32 149.36,249.39 149.71,249.39 149.71,250.33 150.06,250.33 150.06,249.88 150.41,249.88 150.41,249.03 150.76,249.03 150.76,252.91 151.11,252.91 151.11,254.18 151.45,254.18 151.45,249.19 151.80,249.19 151.80,247.97 152.15,247.97 152.15,247.29 152.50,247.29 152.50,249.95 152.85,249.95 152.85,249.12 153.19,249.12 153.19,249.97 153.54,249.97 153.54,251.69 153.89,251.69 153.89,249.27 154.24,249.27 154.24,248.34 154.59,248.34 154.59,244.44 154.94,244.44 154.94,248.00 155.28,248.00 155.28,245.83 155.63,245.83 155.63,248.79 155.98,248.79 155.98,249.49 156.33,249.49 156.33,243.15 156.68,243.15 156.68,247.55 157.03,247.55 157.03,245.35 157.37,245.35 157.37,242.95 157.72,242.95 157.72,247.77 158.07,247.77 158.07,247.26 158.42,247.26 158.42,243.65 158.77,243.65 158.77,244.44 159.11,244.44 159.11,246.35 159.46,246.35 159.46,246.24 159.81,246.24 159.81,244.30 160.16,244.30 160.16,241.72 160.51,241.72 160.51,243.02 160.86,243.02 160.86,241.10 161.20,241.10 161.20,239.74 161.55,239.74 161.55,240.11 161.90,240.11 161.90,237.17 162.25,237.17 162.25,238.89 162.60,238.89 162.60,243.04 162.94,243.04 162.94,237.52 163.29,237.52 163.29,239.85 163.64,239.85 163.64,240.54 163.99,240.54 163.99,241.17 164.34,241.17 164.34,241.63 164.69,241.63 164.69,239.75 165.03,239.75 165.03,239.07 165.38,239.07 165.38,240.32 165.73,240.32 165.73,238.45 166.08,238.45 166.08,235.42 166.43,235.42 166.43,236.91 166.78,236.91 166.78,235.00 167.12,235.00 167.12,235.35 167.47,235.35 167.47,230.04 167.82,230.04 167.82,234.53 168.17,234.53 168.17,230.54 168.52,230.54 168.52,232.14 168.86,232.14 168.86,229.86 169.21,229.86 169.21,229.57 169.56,229.57 169.56,228.82 169.91,228.82 169.91,231.48 170.26,231.48 170.26,230.16 170.61,230.16 170.61,228.78 170.95,228.78 170.95,229.50 171.30,229.50 171.30,223.49 171.65,223.49 171.65,223.34 172.00,223.34 172.00,226.44 172.35,226.44 172.35,222.10 172.70,222.10 172.70,225.21 173.04,225.21 173.04,217.95 173.39,217.95 173.39,220.57 173.74,220.57 173.74,221.91 174.09,221.91 174.09,215.16 174.44,215.16 174.44,217.33 174.78,217.33 174.78,221.99 175.13,221.99 175.13,222.76 175.48,222.76 175.48,214.99 175.83,214.99 175.83,217.86 176.18,217.86 176.18,218.09 176.53,218.09 176.53,210.60 176.87,210.60 176.87,210.22 177.22,210.22 177.22,211.02 177.57,211.02 177.57,207.84 177.92,207.84 177.92,207.60 178.27,207.60 178.27,208.05 178.61,208.05 178.61,211.55 178.96,211.55 178.96,206.38 179.31,206.38 179.31,199.21 179.66,199.21 179.66,187.82 180.01,187.82 180.01,200.42 180.36,200.42 180.36,191.46 180.70,191.46 180.70,194.62 181.05,194.62 181.05,202.50 181.40,202.50 181.40,195.77 181.75,195.77 181.75,200.34 182.10,200.34 182.10,182.45 182.45,182.45 182.45,188.10 182.79,188.10 182.79,204.68 183.14,204.68 183.14,184.94 183.49,184.94 183.49,196.76 183.84,196.76 183.84,184.64 184.19,184.64 184.19,183.28 184.53,183.28 184.53,189.14 184.88,189.14 184.88,181.24 185.23,181.24 185.23,179.24 185.58,179.24 185.58,178.74 185.93,178.74 185.93,166.34 186.28,166.34 186.28,176.45 186.62,176.45 186.62,177.91 186.97,177.91 186.97,168.22 187.32,168.22 187.32,175.52 187.67,175.52 187.67,163.45 188.02,163.45 188.02,162.66 188.36,162.66 188.36,157.57 188.71,157.57 188.71,162.73 189.06,162.73 189.06,168.93 189.41,168.93 189.41,164.85 189.76,164.85 189.76,169.29 190.11,169.29 190.11,157.82 190.45,157.82 190.45,157.07 190.80,157.07 190.80,141.69 191.15,141.69 191.15,155.90 191.50,155.90 191.50,149.91 191.85,149.91 191.85,148.75 192.20,148.75 192.20,159.17 192.54,159.17 192.54,142.92 192.89,142.92 192.89,143.58 193.24,143.58 193.24,144.03 193.59,144.03 193.59,143.51 193.94,143.51 193.94,135.36 194.28,135.36 194.28,157.92 194.63,157.92 194.63,130.01 194.98,130.01 194.98,133.60 195.33,133.60 195.33,129.69 195.68,129.69 195.68,126.59 196.03,126.59 196.03,122.74 196.37,122.74 196.37,148.07 196.72,148.07 196.72,135.09 197.07,135.09 197.07,127.06 197.42,127.06 197.42,132.92 197.77,132.92 197.77,118.37 198.11,118.37 198.11,127.48 198.46,127.48 198.46,136.75 198.81,136.75 198.81,120.61 199.16,120.61 199.16,124.99 199.51,124.99 199.51,109.26 199.86,109.26 199.86,127.88 200.20,127.88 200.20,109.59 200.55,109.59 200.55,132.33 200.90,132.33 200.90,120.52 201.25,120.52 201.25,122.96 201.60,122.96 201.60,122.67 201.95,122.67 201.95,102.84 202.29,102.84 202.29,104.56 202.64,104.56 202.64,116.29 202.99,116.29 202.99,122.14 203.34,122.14 203.34,103.25 203.69,103.25 203.69,102.07 204.03,102.07 204.03,113.11 204.38,113.11 204.38,102.59 204.73,102.59 204.73,112.39 205.08,112.39 205.08,111.40 205.43,111.40 205.43,106.97 205.78,106.97 205.78,101.31 206.12,101.31 206.12,100.57 206.47,100.57 206.47,99.13 206.82,99.13 206.82,97.17 207.17,97.17 207.17,91.59 207.52,91.59 207.52,100.26 207.87,100.26 207.87,95.96 208.21,95.96 208.21,106.20 208.56,106.20 208.56,106.64 208.91,106.64 208.91,97.03 209.26,97.03 209.26,104.42 209.61,104.42 209.61,96.66 209.95,96.66 209.95,103.61 210.30,103.61 210.30,89.86 210.65,89.86 210.65,100.29 211.00,100.29 211.00,100.40 211.35,100.40 211.35,106.81 211.70,106.81 211.70,99.54 212.04,99.54 212.04,90.07 212.39,90.07 212.39,84.90 212.74,84.90 212.74,90.28 213.09,90.28 213.09,108.59 213.44,108.59 213.44,107.18 213.78,107.18 213.78,101.54 214.13,101.54 214.13,117.12 214.48,117.12 214.48,99.71 214.83,99.71 214.83,100.41 215.18,100.41 215.18,100.45 215.53,100.45 215.53,104.01 215.87,104.01 215.87,114.57 216.22,114.57 216.22,115.89 216.57,115.89 216.57,115.43 216.92,115.43 216.92,111.32 217.27,111.32 217.27,114.62 217.62,114.62 217.62,106.25 217.96,106.25 217.96,112.56 218.31,112.56 218.31,127.45 218.66,127.45 218.66,120.73 219.01,120.73 219.01,118.65 219.36,118.65 219.36,123.56 219.70,123.56 219.70,122.38 220.05,122.38 220.05,110.41 220.40,110.41 220.40,115.96 220.75,115.96 220.75,115.93 221.10,115.93 221.10,117.73 221.45,117.73 221.45,121.53 221.79,121.53 221.79,118.28 222.14,118.28 222.14,125.15 222.49,125.15 222.49,122.56 222.84,122.56 222.84,117.48 223.19,117.48 223.19,122.68 223.53,122.68 223.53,135.93 223.88,135.93 223.88,129.18 224.23,129.18 224.23,126.70 224.58,126.70 224.58,132.24 224.93,132.24 224.93,140.44 225.28,140.44 225.28,130.12 225.62,130.12 225.62,146.96 225.97,146.96 225.97,144.92 226.32,144.92 226.32,140.40 226.67,140.40 226.67,148.36 227.02,148.36 227.02,156.66 227.37,156.66 227.37,151.58 227.71,151.58 227.71,161.43 228.06,161.43 228.06,150.28 228.41,150.28 228.41,163.41 228.76,163.41 228.76,152.66 229.11,152.66 229.11,141.47 229.45,141.47 229.45,157.40 229.80,157.40 229.80,152.59 230.15,152.59 230.15,154.77 230.50,154.77 230.50,167.00 230.85,167.00 230.85,164.82 231.20,164.82 231.20,169.83 231.54,169.83 231.54,154.53 231.89,154.53 231.89,168.97 232.24,168.97 232.24,159.78 232.59,159.78 232.59,172.04 232.94,172.04 232.94,177.53 233.29,177.53 233.29,174.66 233.63,174.66 233.63,165.47 233.98,165.47 233.98,183.71 234.33,183.71 234.33,165.11 234.68,165.11 234.68,192.99 235.03,192.99 235.03,174.31 235.37,174.31 235.37,185.11 235.72,185.11 235.72,188.39 236.07,188.39 236.07,192.44 236.42,192.44 236.42,190.36 236.77,190.36 236.77,181.77 237.12,181.77 237.12,187.13 237.46,187.13 237.46,194.49 237.81,194.49 237.81,193.35 238.16,193.35 238.16,196.63 238.51,196.63 238.51,198.00 238.86,198.00 238.86,187.27 239.20,187.27 239.20,191.58 239.55,191.58 239.55,203.23 239.90,203.23 239.90,199.35 240.25,199.35 240.25,197.84 240.60,197.84 240.60,204.22 240.95,204.22 240.95,202.22 241.29,202.22 241.29,194.56 241.64,194.56 241.64,212.34 241.99,212.34 241.99,203.61 242.34,203.61 242.34,206.91 242.69,206.91 242.69,204.59 243.04,204.59 243.04,208.17 243.38,208.17 243.38,210.48 243.73,210.48 243.73,208.22 244.08,208.22 244.08,208.67 244.43,208.67 244.43,208.83 244.78,208.83 244.78,211.13 245.12,211.13 245.12,219.53 245.47,219.53 245.47,219.75 245.82,219.75 245.82,214.27 246.17,214.27 246.17,222.18 246.52,222.18 246.52,216.36 246.87,216.36 246.87,229.73 247.21,229.73 247.21,225.91 247.56,225.91 247.56,222.33 247.91,222.33 247.91,220.71 248.26,220.71 248.26,229.15 248.61,229.15 248.61,225.70 248.95,225.70 248.95,224.80 249.30,224.80 249.30,227.59 249.65,227.59 249.65,229.21 250.00,229.21 250.00,230.03 250.35,230.03 250.35,231.02 250.70,231.02 250.70,230.54 251.04,230.54 251.04,228.51 251.39,228.51 251.39,235.90 251.74,235.90 251.74,233.80 252.09,233.80 252.09,232.89 252.44,232.89 252.44,236.77 252.79,236.77 252.79,238.94 253.13,238.94 253.13,235.38 253.48,235.38 253.48,236.48 253.83,236.48 253.83,236.94 254.18,236.94 254.18,234.71 254.53,234.71 254.53,240.81 254.87,240.81 254.87,232.26 255.22,232.26 255.22,239.75 255.57,239.75 255.57,242.85 255.92,242.85 255.92,244.95 256.27,244.95 256.27,242.81 256.62,242.81 256.62,238.37 256.96,238.37 256.96,239.41 257.31,239.41 257.31,240.70 257.66,240.70 257.66,242.49 258.01,242.49 258.01,239.86 258.36,239.86 258.36,245.31 258.70,245.31 258.70,248.15 259.05,248.15 259.05,242.09 259.40,242.09 259.40,245.23 259.75,245.23 259.75,245.02 260.10,245.02 260.10,244.37 260.45,244.37 260.45,246.50 260.79,246.50 260.79,245.12 261.14,245.12 261.14,247.02 261.49,247.02 261.49,249.88 261.84,249.88 261.84,246.30 262.19,246.30 262.19,247.15 262.54,247.15 262.54,248.03 262.88,248.03 262.88,248.29 263.23,248.29 263.23,252.29 263.58,252.29 263.58,250.16 263.93,250.16 263.93,246.73 264.28,246.73 264.28,250.64 264.62,250.64 264.62,250.53 264.97,250.53 264.97,251.76 265.32,251.76 265.32,251.74 265.67,251.74 265.67,250.88 266.02,250.88 266.02,250.95 266.37,250.95 266.37,250.43 266.71,250.43 266.71,252.38 267.06,252.38 267.06,251.08 267.41,251.08 267.41,251.47 267.76,251.47 267.76,251.59 268.11,251.59 268.11,251.29 268.46,251.29 268.46,248.88 268.80,248.88 268.80,251.91 269.15,251.91 269.15,252.44 269.50,252.44 269.50,253.30 269.85,253.30 269.85,251.61 270.20,251.61 270.20,254.22 270.54,254.22 270.54,254.39 270.89,254.39 270.89,254.19 271.24,254.19 271.24,252.49 271.59,252.49 271.59,254.70 271.94,254.70 271.94,252.09 272.29,252.09 272.29,253.49 272.63,253.49 272.63,255.37 272.98,255.37 272.98,254.42 273.33,254.42 273.33,252.11 273.68,252.11 273.68,254.52 274.03,254.52 274.03,255.77 274.37,255.77 274.37,254.06 274.72,254.06 274.72,252.66 275.07,252.66 275.07,253.71 275.42,253.71 275.42,255.59 275.77,255.59 275.77,254.66 276.12,254.66 276.12,255.06 276.46,255.06 276.46,254.19 276.81,254.19 276.81,253.09 277.16,253.09 277.16,255.63 277.51,255.63 277.51,254.48 277.86,254.48 277.86,256.17 278.21,256.17 278.21,255.35 278.55,255.35 278.55,256.53 278.90,256.53 278.90,256.89 279.25,256.89 279.25,255.81 279.60,255.81 279.60,256.57 279.95,256.57 279.95,255.55 280.29,255.55 280.29,256.54 280.64,256.54 280.64,256.09 280.99,256.09 280.99,256.62 281.34,256.62 281.34,257.08 281.69,257.08 281.69,256.48 282.04,256.48 282.04,255.69 282.38,255.69 282.38,253.96 282.73,253.96 282.73,257.65 283.08,257.65 283.08,256.52 283.43,256.52 283.43,256.97 283.78,256.97 283.78,258.22 284.12,258.22 284.12,256.73 284.47,256.73 284.47,258.22 284.82,258.22 284.82,257.65 285.17,257.65 285.17,256.47 285.52,256.47 285.52,258.79 285.87,258.79 285.87,257.08 286.21,257.08 286.21,257.65 286.56,257.65 286.56,258.22 286.91,258.22 286.91,257.08 287.26,257.08 287.26,257.65 287.61,257.65 287.61,258.22 287.96,258.22 287.96,257.08 288.30,257.08 288.30,258.79 288.65,258.79 288.65,257.65 289.00,257.65 289.00,258.22 289.35,258.22 289.35,258.79 289.70,258.79 289.70,258.22 290.04,258.22 290.04,258.22 290.39,258.22 290.39,257.65 290.74,257.65 290.74,259.36 291.09,259.36 291.09,258.79 291.44,258.79 291.44,258.79 291.79,258.79 291.79,257.08 292.13,257.08 292.13,259.36 292.48,259.36 292.48,257.65 292.83,257.65 292.83,259.93 293.18,259.93 293.18,258.22 293.53,258.22 293.53,258.79 293.87,258.79 293.87,258.79 294.22,258.79 294.22,258.79 294.57,258.79 294.57,259.93 294.92,259.93 294.92,259.93 295.27,259.93 295.27,258.22 295.62,258.22 295.62,258.79 295.96,258.79 295.96,259.36 296.31,259.36 296.31,258.79 296.66,258.79 296.66,259.36 297.01,259.36 297.01,259.36 297.36,259.36 297.36,259.93 297.71,259.93 297.71,258.79 298.05,258.79 298.05,258.22 298.40,258.22 298.40,259.93 298.75,259.93 298.75,259.36 299.10,259.36 299.10,258.79 299.45,258.79 299.45,258.22 299.79,258.22 299.79,260.50 300.14,260.50 300.14,259.36 300.49,259.36 300.49,259.36 300.84,259.36 300.84,259.93 301.19,259.93 301.19,259.36 301.54,259.36 301.54,259.36 301.88,259.36 301.88,259.36 302.23,259.36 302.23,259.93 302.58,259.93 302.58,259.36 302.93,259.36 302.93,259.93 303.28,259.93 303.28,259.36 303.63,259.36 303.63,259.36 303.97,259.36 303.97,259.93 304.32,259.93 304.32,259.93 304.67,259.93 304.67,258.79 305.02,258.79 305.02,259.36 305.37,259.36 305.37,259.36 305.71,259.36 305.71,259.93 306.06,259.93 306.06,259.93 306.41,259.93 306.41,259.36 306.76,259.36 306.76,259.36 307.11,259.36 307.11,259.93 307.46,259.93 307.46,259.93 307.80,259.93 307.80,259.93 308.15,259.93 308.15,259.93 308.50,259.93 308.50,260.50 308.85,260.50 308.85,259.36 309.20,259.36 309.20,259.36 309.54,259.36 309.54,259.93 309.89,259.93 309.89,260.50 310.24,260.50 310.24,259.93 310.59,259.93 310.59,259.93 310.94,259.93 310.94,259.93 311.29,259.93 311.29,259.93 311.63,259.93 311.63,259.93 311.98,259.93 311.98,259.93 312.33,259.93 312.33,260.50 312.68,260.50 312.68,260.50 313.03,260.50 313.03,260.50 313.38,260.50 313.38,260.50 313.72,260.50 313.72,259.93 314.07,259.93 314.07,259.93 314.42,259.93 314.42,259.93 314.77,259.93 314.77,259.93 315.12,259.93 315.12,260.50 315.46,260.50 315.46,259.36 315.81,259.36 315.81,259.93 316.16,259.93 316.16,259.93 316.51,259.93 316.51,260.50 316.86,260.50 316.86,260.50 317.21,260.50 317.21,259.93 317.55,259.93 317.55,259.93 317.90,259.93 317.90,259.93 318.25,259.93 318.25,259.93 318.60,259.93 318.60,259.93 318.95,259.93 318.95,259.93 319.29,259.93 319.29,260.50 319.64,260.50 319.64,260.50 319.99,260.50 319.99,260.50 320.34,260.50 320.34,260.50 320.69,260.50 320.69,260.50 321.04,260.50 321.04,260.50 321.38,260.50 321.38,259.93 321.73,259.93 321.73,260.50 322.08,260.50 322.08,260.50 322.43,260.50 322.43,260.50 322.78,260.50 322.78,259.93 323.13,259.93 323.13,260.50 323.47,260.50 323.47,260.50 323.82,260.50 323.82,260.50 324.17,260.50 324.17,260.50 324.52,260.50 324.52,260.50 324.87,260.50 324.87,260.50 325.21,260.50 325.21,260.50 325.56,260.50 325.56,260.50 325.91,260.50 325.91,260.50 326.26,260.50 326.26,260.50 326.61,260.50 326.61,260.50 326.96,260.50 326.96,259.93 327.30,259.93 327.30,260.50 327.65,260.50 327.65,260.50 328.00,260.50 328.00,260.50 328.35,260.50 328.35,260.50 328.70,260.50 328.70,260.50 329.05,260.50 329.05,260.50 329.39,260.50 329.39,260.50 329.74,260.50 329.74,260.50 330.09,260.50 330.09,260.50 330.44,260.50 330.44,260.50 330.79,260.50 330.79,260.50 331.13,260.50 331.13,260.50 331.48,260.50 331.48,259.93 331.83,259.93 331.83,260.50 332.18,260.50 332.18,260.50 332.53,260.50 332.53,260.50 332.88,260.50 332.88,260.50 333.22,260.50 333.22,260.50 333.57,260.50 333.57,260.50 333.92,260.50 333.92,260.50 334.27,260.50 334.27,260.50 334.62,260.50 334.62,260.50 334.96,260.50 334.96,260.50 335.31,260.50 335.31,260.50 335.66,260.50 335.66,260.50 336.01,260.50 336.01,260.50 336.36,260.50 336.36,260.50 336.71,260.50 336.71,260.50 337.05,260.50 337.05,260.50 337.40,260.50 337.40,260.50 337.75,260.50 337.75,260.50 338.10,260.50 338.10,259.93 338.45,259.93 338.45,260.50 338.80,260.50 338.80,260.50 339.14,260.50 339.14,260.50 339.49,260.50 339.49,260.50 339.84,260.50 339.84,260.50 340.19,260.50 340.19,260.50 340.54,260.50 340.54,260.50 340.88,260.50 340.88,260.50 341.23,260.50 341.23,260.50 341.58,260.50 341.58,260.50 341.93,260.50 341.93,260.50 342.28,260.50 342.28,260.50 342.63,260.50 342.63,260.50 342.97,260.50 342.97,260.50 343.32,260.50 343.32,260.50 343.67,260.50 343.67,260.50 344.02,260.50 344.02,260.50 344.37,260.50 344.37,260.50 344.71,260.50 344.71,260.50 345.06,260.50 345.06,260.50 345.41,260.50 345.41,260.50 345.76,260.50 345.76,260.50 346.11,260.50 346.11,260.50 346.46,260.50 346.46,260.50 346.80,260.50 346.80,260.50 347.15,260.50 347.15,260.50 347.50,260.50 347.50,260.50 347.85,260.50 347.85,260.50 348.20,260.50 348.20,260.50 348.55,260.50 348.55,260.50 348.89,260.50 348.89,260.50 349.24,260.50 349.24,260.50 349.59,260.50 349.59,260.50 349.94,260.50 349.94,260.50 350.29,260.50 350.29,260.50 350.63,260.50 350.63,260.50 350.98,260.50 350.98,260.50 351.33,260.50 351.33,260.50 351.68,260.50 351.68,260.50 352.03,260.50 352.03,260.50 352.38,260.50 352.38,260.50 352.72,260.50 352.72,260.50 353.07,260.50 353.07,260.50 353.42,260.50 353.42,260.50 353.77,260.50 353.77,260.50 354.12,260.50 354.12,260.50 354.46,260.50 354.46,260.50 354.81,260.50 354.81,260.50 355.16,260.50 355.16,260.50 355.51,260.50 355.51,260.50 355.86,260.50 355.86,260.50 356.21,260.50 356.21,260.50 356.55,260.50 356.55,260.50 356.90,260.50 356.90,260.50 357.25,260.50 357.25,260.50 357.60,260.50 357.60,260.50 357.95,260.50 357.95,260.50 358.30,260.50 358.30,260.50 358.64,260.50 358.64,260.50 358.99,260.50 358.99,260.50 359.34,260.50 359.34,260.50 359.69,260.50 359.69,260.50 360.04,260.50 360.04,260.50 360.38,260.50 360.38,260.50 360.73,260.50 360.73,260.50 361.08,260.50 361.08,260.50 361.43,260.50 361.43,260.50 361.78,260.50 361.78,260.50 362.13,260.50 362.13,260.50 362.47,260.50 362.47,260.50 362.82,260.50 362.82,260.50 363.17,260.50 363.17,260.50 363.52,260.50 363.52,260.50 363.87,260.50 363.87,260.50 364.22,260.50 364.22,260.50 364.56,260.50 364.56,260.50 364.91,260.50 364.91,260.50 365.26,260.50 365.26,260.50 365.61,260.50 365.61,260.50 365.96,260.50 365.96,260.50 366.30,260.50 366.30,260.50 366.65,260.50 366.65,260.50 367.00,260.50 367.00,260.50 367.35,260.50 367.35,260.50 367.70,260.50 367.70,260.50 368.05,260.50 368.05,260.50 368.39,260.50 368.39,260.50 368.74,260.50 368.74,260.50 369.09,260.50 369.09,260.50 369.44,260.50 369.44,260.50 369.79,260.50 369.79,260.50 370.13,260.50 370.13,260.50 370.48,260.50 370.48,260.50 370.83,260.50 370.83,260.50 371.18,260.50 371.18,260.50 371.53,260.50 371.53,260.50 371.88,260.50 371.88,260.50 372.22,260.50 372.22,260.50 372.57,260.50 372.57,260.50 372.92,260.50 372.92,260.50 373.27,260.50 373.27,260.50 373.62,260.50 373.62,260.50 373.97,260.50 373.97,260.50 374.31,260.50 374.31,260.50 374.66,260.50 374.66,260.50 375.01,260.50 375.01,260.50 375.36,260.50 375.36,260.50 375.71,260.50 375.71,260.50 376.05,260.50 376.05,260.50 376.40,260.50 376.40,260.50 376.75,260.50 376.75,260.50 377.10,260.50 377.10,260.50 377.45,260.50 377.45,260.50 377.80,260.50 377.80,260.50 378.14,260.50 378.14,260.50 378.49,260.50" fill="none" stroke="rgb(200,200,200)" stroke-width="1" stroke-linejoin="miter"/>
<rect x="101.00" y="233.2" width="2" height="28.20" fill="#000"/>
<rect x="158.00" y="216.1" width="2" height="45.30" fill="#000"/>
<rect x="187.00" y="128.4" width="2" height="133.00" fill="#000"/>
<rect x="232.00" y="128.4" width="2" height="133.00" fill="#000"/>
<rect x="261.00" y="216.1" width="2" height="45.30" fill="#000"/>
<rect x="311.00" y="233.2" width="2" height="28.20" fill="#000"/>
</g>
<path d="M51.3,123.2 H72.3" stroke="rgb(215,215,215)" stroke-width="1.6" fill="none"/>
<text transform="translate(81.3,128.0) scale(1,1.06)" font-size="12" text-anchor="start" textLength="125" lengthAdjust="spacing" >[-0.13,0.13] @ 0.6827</text>
<path d="M51.3,145.2 H72.3" stroke="rgb(215,215,215)" stroke-width="1.6" fill="none"/>
<text transform="translate(81.3,150.0) scale(1,1.06)" font-size="12" text-anchor="start" textLength="112" lengthAdjust="spacing" >[-0.28,0.28] @ 0.95</text>
<path d="M51.3,167.2 H72.3" stroke="rgb(215,215,215)" stroke-width="1.6" fill="none"/>
<text transform="translate(81.3,172.0) scale(1,1.06)" font-size="12" text-anchor="start" textLength="125" lengthAdjust="spacing" >[-0.59,0.56] @ 0.9973</text>
<path d="M210.5,73.5 V274.5" stroke="#ff0000" stroke-width="1" fill="none"/>
<rect x="13.5" y="73.5" width="383" height="201" fill="none" stroke="#000" stroke-width="1"/>
<path d="M27.5,274 V270" stroke="#505050" stroke-width="1" fill="none"/>
<text x="26.9" y="287" font-size="10.9" text-anchor="middle" textLength="10" lengthAdjust="spacing" >-1</text>
<path d="M64.5,274 V271" stroke="#8c8c8c" stroke-width="1" fill="none"/>
<text x="63.4" y="287" font-size="10.9" text-anchor="middle" textLength="20" lengthAdjust="spacing" >-0.8</text>
<path d="M100.5,274 V271" stroke="#8c8c8c" stroke-width="1" fill="none"/>
<text x="99.9" y="287" font-size="10.9" text-anchor="middle" textLength="20" lengthAdjust="spacing" >-0.6</text>
<path d="M137.5,274 V271" stroke="#8c8c8c" stroke-width="1" fill="none"/>
<text x="136.5" y="287" font-size="10.9" text-anchor="middle" textLength="20" lengthAdjust="spacing" >-0.4</text>
<path d="M173.5,274 V271" stroke="#8c8c8c" stroke-width="1" fill="none"/>
<text x="173.0" y="287" font-size="10.9" text-anchor="middle" textLength="20" lengthAdjust="spacing" >-0.2</text>
<path d="M210.5,275 V269" stroke="#000" stroke-width="1" fill="none"/>
<text x="209.5" y="287" font-size="10.9" text-anchor="middle" >0</text>
<path d="M247.5,274 V271" stroke="#8c8c8c" stroke-width="1" fill="none"/>
<text x="246.0" y="287" font-size="10.9" text-anchor="middle" textLength="16" lengthAdjust="spacing" >0.2</text>
<path d="M283.5,274 V271" stroke="#8c8c8c" stroke-width="1" fill="none"/>
<text x="282.5" y="287" font-size="10.9" text-anchor="middle" textLength="16" lengthAdjust="spacing" >0.4</text>
<path d="M320.5,274 V271" stroke="#8c8c8c" stroke-width="1" fill="none"/>
<text x="319.1" y="287" font-size="10.9" text-anchor="middle" textLength="16" lengthAdjust="spacing" >0.6</text>
<path d="M356.5,274 V271" stroke="#8c8c8c" stroke-width="1" fill="none"/>
<text x="355.6" y="287" font-size="10.9" text-anchor="middle" textLength="16" lengthAdjust="spacing" >0.8</text>
<path d="M393.5,274 V270" stroke="#505050" stroke-width="1" fill="none"/>
<text x="392.1" y="287" font-size="10.9" text-anchor="middle" >1</text>
<text transform="translate(201.8,308.7) scale(1,1.08)" font-size="10.67" text-anchor="middle" textLength="70.5" lengthAdjust="spacing" >Reading blocks</text>
<text transform="translate(64.4,64.0) scale(1,1.06)" font-size="14.67" text-anchor="start" textLength="279.3" lengthAdjust="spacing" >Distribution of edge (D) errors due to noise</text>
<clipPath id="c2"><rect x="404.5" y="73.5" width="383" height="201"/></clipPath>
<g clip-path="url(#c2)">
<path d="M421.18,260.50 L421.18,260.50 421.52,260.50 421.52,260.50 421.87,260.50 421.87,260.50 422.22,260.50 422.22,260.50 422.57,260.50 422.57,260.50 422.92,260.50 422.92,260.50 423.26,260.50 423.26,260.50 423.61,260.50 423.61,260.50 423.96,260.50 423.96,260.50 424.31,260.50 424.31,260.50 424.66,260.50 424.66,260.50 425.00,260.50 425.00,260.50 425.35,260.50 425.35,260.50 425.70,260.50 425.70,260.50 426.05,260.50 426.05,260.50 426.40,260.50 426.40,260.50 426.74,260.50 426.74,260.50 427.09,260.50 427.09,260.50 427.44,260.50 427.44,260.50 427.79,260.50 427.79,260.50 428.14,260.50 428.14,260.50 428.48,260.50 428.48,260.50 428.83,260.50 428.83,260.50 429.18,260.50 429.18,260.50 429.53,260.50 429.53,260.50 429.88,260.50 429.88,260.50 430.22,260.50 430.22,260.50 430.57,260.50 430.57,260.50 430.92,260.50 430.92,260.50 431.27,260.50 431.27,260.50 431.62,260.50 431.62,260.50 431.96,260.50 431.96,260.50 432.31,260.50 432.31,260.50 432.66,260.50 432.66,260.50 433.01,260.50 433.01,260.50 433.36,260.50 433.36,260.50 433.70,260.50 433.70,260.50 434.05,260.50 434.05,260.50 434.40,260.50 434.40,260.50 434.75,260.50 434.75,260.50 435.10,260.50 435.10,260.50 435.44,260.50 435.44,260.50 435.79,260.50 435.79,260.50 436.14,260.50 436.14,260.50 436.49,260.50 436.49,260.50 436.84,260.50 436.84,260.50 437.18,260.50 437.18,260.50 437.53,260.50 437.53,260.50 437.88,260.50 437.88,260.50 438.23,260.50 438.23,260.50 438.58,260.50 438.58,260.50 438.92,260.50 438.92,260.50 439.27,260.50 439.27,260.50 439.62,260.50 439.62,260.50 439.97,260.50 439.97,260.50 440.32,260.50 440.32,260.50 440.66,260.50 440.66,260.50 441.01,260.50 441.01,260.50 441.36,260.50 441.36,260.50 441.71,260.50 441.71,260.50 442.06,260.50 442.06,260.50 442.40,260.50 442.40,260.50 442.75,260.50 442.75,260.50 443.10,260.50 443.10,260.50 443.45,260.50 443.45,260.50 443.80,260.50 443.80,260.50 444.14,260.50 444.14,260.50 444.49,260.50 444.49,260.50 444.84,260.50 444.84,260.50 445.19,260.50 445.19,260.50 445.54,260.50 445.54,260.50 445.88,260.50 445.88,260.50 446.23,260.50 446.23,260.50 446.58,260.50 446.58,260.50 446.93,260.50 446.93,260.50 447.27,260.50 447.27,260.50 447.62,260.50 447.62,260.50 447.97,260.50 447.97,260.50 448.32,260.50 448.32,260.50 448.67,260.50 448.67,260.50 449.01,260.50 449.01,260.50 449.36,260.50 449.36,260.50 449.71,260.50 449.71,260.50 450.06,260.50 450.06,260.50 450.41,260.50 450.41,260.50 450.75,260.50 450.75,260.50 451.10,260.50 451.10,260.50 451.45,260.50 451.45,260.50 451.80,260.50 451.80,260.50 452.15,260.50 452.15,260.50 452.49,260.50 452.49,260.50 452.84,260.50 452.84,260.50 453.19,260.50 453.19,260.50 453.54,260.50 453.54,260.50 453.89,260.50 453.89,260.50 454.23,260.50 454.23,260.50 454.58,260.50 454.58,260.50 454.93,260.50 454.93,260.50 455.28,260.50 455.28,260.50 455.63,260.50 455.63,260.50 455.97,260.50 455.97,260.50 456.32,260.50 456.32,260.50 456.67,260.50 456.67,260.50 457.02,260.50 457.02,260.50 457.37,260.50 457.37,260.50 457.71,260.50 457.71,260.50 458.06,260.50 458.06,260.50 458.41,260.50 458.41,260.50 458.76,260.50 458.76,260.50 459.11,260.50 459.11,260.50 459.45,260.50 459.45,260.50 459.80,260.50 459.80,260.50 460.15,260.50 460.15,260.50 460.50,260.50 460.50,260.50 460.85,260.50 460.85,260.50 461.19,260.50 461.19,259.93 461.54,259.93 461.54,259.93 461.89,259.93 461.89,260.50 462.24,260.50 462.24,260.50 462.59,260.50 462.59,260.50 462.93,260.50 462.93,259.93 463.28,259.93 463.28,260.50 463.63,260.50 463.63,260.50 463.98,260.50 463.98,260.50 464.33,260.50 464.33,260.50 464.67,260.50 464.67,260.50 465.02,260.50 465.02,260.50 465.37,260.50 465.37,260.50 465.72,260.50 465.72,260.50 466.07,260.50 466.07,260.50 466.41,260.50 466.41,260.50 466.76,260.50 466.76,260.50 467.11,260.50 467.11,260.50 467.46,260.50 467.46,259.93 467.81,259.93 467.81,259.93 468.15,259.93 468.15,259.93 468.50,259.93 468.50,259.93 468.85,259.93 468.85,259.93 469.20,259.93 469.20,260.50 469.55,260.50 469.55,260.50 469.89,260.50 469.89,260.50 470.24,260.50 470.24,259.93 470.59,259.93 470.59,260.50 470.94,260.50 470.94,259.93 471.29,259.93 471.29,260.50 471.63,260.50 471.63,260.50 471.98,260.50 471.98,259.93 472.33,259.93 472.33,260.50 472.68,260.50 472.68,260.50 473.03,260.50 473.03,260.50 473.37,260.50 473.37,260.50 473.72,260.50 473.72,259.93 474.07,259.93 474.07,260.50 474.42,260.50 474.42,259.93 474.77,259.93 474.77,260.50 475.11,260.50 475.11,259.93 475.46,259.93 475.46,259.93 475.81,259.93 475.81,259.93 476.16,259.93 476.16,259.93 476.51,259.93 476.51,259.93 476.85,259.93 476.85,259.93 477.20,259.93 477.20,259.93 477.55,259.93 477.55,260.50 477.90,260.50 477.90,259.93 478.25,259.93 478.25,260.50 478.59,260.50 478.59,260.50 478.94,260.50 478.94,259.93 479.29,259.93 479.29,260.50 479.64,260.50 479.64,259.93 479.99,259.93 479.99,259.36 480.33,259.36 480.33,259.93 480.68,259.93 480.68,258.79 481.03,258.79 481.03,259.93 481.38,259.93 481.38,259.93 481.73,259.93 481.73,260.50 482.07,260.50 482.07,259.93 482.42,259.93 482.42,259.93 482.77,259.93 482.77,259.93 483.12,259.93 483.12,259.93 483.46,259.93 483.46,259.93 483.81,259.93 483.81,260.50 484.16,260.50 484.16,259.36 484.51,259.36 484.51,259.93 484.86,259.93 484.86,260.50 485.20,260.50 485.20,259.36 485.55,259.36 485.55,260.50 485.90,260.50 485.90,259.93 486.25,259.93 486.25,260.50 486.60,260.50 486.60,259.93 486.94,259.93 486.94,260.50 487.29,260.50 487.29,258.22 487.64,258.22 487.64,258.79 487.99,258.79 487.99,259.36 488.34,259.36 488.34,259.36 488.68,259.36 488.68,259.36 489.03,259.36 489.03,259.36 489.38,259.36 489.38,259.36 489.73,259.36 489.73,259.93 490.08,259.93 490.08,259.36 490.42,259.36 490.42,259.93 490.77,259.93 490.77,259.93 491.12,259.93 491.12,259.36 491.47,259.36 491.47,259.93 491.82,259.93 491.82,258.79 492.16,258.79 492.16,259.36 492.51,259.36 492.51,257.65 492.86,257.65 492.86,259.36 493.21,259.36 493.21,258.79 493.56,258.79 493.56,258.79 493.90,258.79 493.90,259.36 494.25,259.36 494.25,258.79 494.60,258.79 494.60,258.79 494.95,258.79 494.95,258.79 495.30,258.79 495.30,258.79 495.64,258.79 495.64,258.22 495.99,258.22 495.99,258.22 496.34,258.22 496.34,258.79 496.69,258.79 496.69,258.22 497.04,258.22 497.04,258.79 497.38,258.79 497.38,259.36 497.73,259.36 497.73,258.79 498.08,258.79 498.08,258.79 498.43,258.79 498.43,258.79 498.78,258.79 498.78,258.22 499.12,258.22 499.12,258.22 499.47,258.22 499.47,257.65 499.82,257.65 499.82,257.65 500.17,257.65 500.17,258.79 500.52,258.79 500.52,257.65 500.86,257.65 500.86,258.22 501.21,258.22 501.21,257.65 501.56,257.65 501.56,257.08 501.91,257.08 501.91,258.22 502.26,258.22 502.26,257.08 502.60,257.08 502.60,256.99 502.95,256.99 502.95,257.65 503.30,257.65 503.30,258.79 503.65,258.79 503.65,257.65 504.00,257.65 504.00,258.79 504.34,258.79 504.34,256.93 504.69,256.93 504.69,257.65 505.04,257.65 505.04,257.65 505.39,257.65 505.39,255.97 505.74,255.97 505.74,256.88 506.08,256.88 506.08,257.08 506.43,257.08 506.43,258.22 506.78,258.22 506.78,257.08 507.13,257.08 507.13,257.65 507.48,257.65 507.48,256.98 507.82,256.98 507.82,258.22 508.17,258.22 508.17,255.87 508.52,255.87 508.52,255.37 508.87,255.37 508.87,256.79 509.22,256.79 509.22,257.65 509.56,257.65 509.56,256.48 509.91,256.48 509.91,256.54 510.26,256.54 510.26,255.44 510.61,255.44 510.61,256.36 510.96,256.36 510.96,256.71 511.30,256.71 511.30,257.65 511.65,257.65 511.65,256.42 512.00,256.42 512.00,258.22 512.35,258.22 512.35,257.08 512.70,257.08 512.70,254.99 513.04,254.99 513.04,255.95 513.39,255.95 513.39,255.57 513.74,255.57 513.74,256.13 514.09,256.13 514.09,256.29 514.44,256.29 514.44,255.44 514.78,255.44 514.78,254.78 515.13,254.78 515.13,254.27 515.48,254.27 515.48,255.55 515.83,255.55 515.83,254.33 516.18,254.33 516.18,253.55 516.52,253.55 516.52,253.94 516.87,253.94 516.87,252.30 517.22,252.30 517.22,254.52 517.57,254.52 517.57,256.36 517.92,256.36 517.92,254.08 518.26,254.08 518.26,253.21 518.61,253.21 518.61,252.28 518.96,252.28 518.96,252.78 519.31,252.78 519.31,250.90 519.65,250.90 519.65,252.02 520.00,252.02 520.00,252.75 520.35,252.75 520.35,253.74 520.70,253.74 520.70,253.18 521.05,253.18 521.05,250.77 521.39,250.77 521.39,249.26 521.74,249.26 521.74,251.30 522.09,251.30 522.09,252.23 522.44,252.23 522.44,252.55 522.79,252.55 522.79,250.86 523.13,250.86 523.13,251.19 523.48,251.19 523.48,252.28 523.83,252.28 523.83,249.39 524.18,249.39 524.18,251.62 524.53,251.62 524.53,249.93 524.87,249.93 524.87,250.04 525.22,250.04 525.22,248.46 525.57,248.46 525.57,250.32 525.92,250.32 525.92,251.38 526.27,251.38 526.27,250.08 526.61,250.08 526.61,249.65 526.96,249.65 526.96,248.24 527.31,248.24 527.31,249.88 527.66,249.88 527.66,244.29 528.01,244.29 528.01,251.29 528.35,251.29 528.35,249.21 528.70,249.21 528.70,244.87 529.05,244.87 529.05,247.22 529.40,247.22 529.40,249.37 529.75,249.37 529.75,246.07 530.09,246.07 530.09,243.64 530.44,243.64 530.44,247.97 530.79,247.97 530.79,244.40 531.14,244.40 531.14,248.46 531.49,248.46 531.49,246.18 531.83,246.18 531.83,244.57 532.18,244.57 532.18,245.00 532.53,245.00 532.53,245.78 532.88,245.78 532.88,244.51 533.23,244.51 533.23,244.42 533.57,244.42 533.57,245.29 533.92,245.29 533.92,244.38 534.27,244.38 534.27,242.84 534.62,242.84 534.62,240.79 534.97,240.79 534.97,243.95 535.31,243.95 535.31,240.23 535.66,240.23 535.66,236.39 536.01,236.39 536.01,239.76 536.36,239.76 536.36,238.07 536.71,238.07 536.71,241.72 537.05,241.72 537.05,240.67 537.40,240.67 537.40,239.07 537.75,239.07 537.75,237.42 538.10,237.42 538.10,238.50 538.45,238.50 538.45,234.70 538.79,234.70 538.79,238.56 539.14,238.56 539.14,233.48 539.49,233.48 539.49,231.85 539.84,231.85 539.84,232.16 540.19,232.16 540.19,228.85 540.53,228.85 540.53,229.10 540.88,229.10 540.88,233.57 541.23,233.57 541.23,230.90 541.58,230.90 541.58,229.35 541.93,229.35 541.93,232.02 542.27,232.02 542.27,228.80 542.62,228.80 542.62,230.64 542.97,230.64 542.97,227.50 543.32,227.50 543.32,228.27 543.67,228.27 543.67,229.96 544.01,229.96 544.01,226.96 544.36,226.96 544.36,232.54 544.71,232.54 544.71,232.90 545.06,232.90 545.06,229.00 545.41,229.00 545.41,225.23 545.75,225.23 545.75,224.00 546.10,224.00 546.10,217.51 546.45,217.51 546.45,223.96 546.80,223.96 546.80,226.21 547.15,226.21 547.15,214.37 547.49,214.37 547.49,226.14 547.84,226.14 547.84,220.56 548.19,220.56 548.19,217.88 548.54,217.88 548.54,224.46 548.89,224.46 548.89,211.61 549.23,211.61 549.23,214.44 549.58,214.44 549.58,216.09 549.93,216.09 549.93,214.93 550.28,214.93 550.28,211.52 550.63,211.52 550.63,208.60 550.97,208.60 550.97,202.73 551.32,202.73 551.32,212.13 551.67,212.13 551.67,209.96 552.02,209.96 552.02,203.05 552.37,203.05 552.37,200.05 552.71,200.05 552.71,217.52 553.06,217.52 553.06,198.61 553.41,198.61 553.41,205.74 553.76,205.74 553.76,207.53 554.10,207.53 554.10,202.55 554.45,202.55 554.45,196.95 554.80,196.95 554.80,201.11 555.15,201.11 555.15,197.55 555.50,197.55 555.50,195.29 555.84,195.29 555.84,196.39 556.19,196.39 556.19,197.55 556.54,197.55 556.54,195.72 556.89,195.72 556.89,190.66 557.24,190.66 557.24,201.29 557.58,201.29 557.58,196.13 557.93,196.13 557.93,182.79 558.28,182.79 558.28,189.18 558.63,189.18 558.63,183.53 558.98,183.53 558.98,179.94 559.32,179.94 559.32,188.34 559.67,188.34 559.67,175.17 560.02,175.17 560.02,193.15 560.37,193.15 560.37,179.19 560.72,179.19 560.72,176.58 561.06,176.58 561.06,185.27 561.41,185.27 561.41,168.81 561.76,168.81 561.76,170.37 562.11,170.37 562.11,173.91 562.46,173.91 562.46,181.47 562.80,181.47 562.80,164.05 563.15,164.05 563.15,158.76 563.50,158.76 563.50,185.06 563.85,185.06 563.85,169.52 564.20,169.52 564.20,177.78 564.54,177.78 564.54,178.86 564.89,178.86 564.89,160.73 565.24,160.73 565.24,166.59 565.59,166.59 565.59,157.29 565.94,157.29 565.94,155.75 566.28,155.75 566.28,162.42 566.63,162.42 566.63,139.55 566.98,139.55 566.98,149.16 567.33,149.16 567.33,158.21 567.68,158.21 567.68,144.33 568.02,144.33 568.02,146.13 568.37,146.13 568.37,148.89 568.72,148.89 568.72,152.80 569.07,152.80 569.07,142.16 569.42,142.16 569.42,137.38 569.76,137.38 569.76,140.67 570.11,140.67 570.11,145.23 570.46,145.23 570.46,151.01 570.81,151.01 570.81,134.47 571.16,134.47 571.16,135.96 571.50,135.96 571.50,136.72 571.85,136.72 571.85,134.19 572.20,134.19 572.20,127.88 572.55,127.88 572.55,132.99 572.90,132.99 572.90,122.53 573.24,122.53 573.24,128.32 573.59,128.32 573.59,116.56 573.94,116.56 573.94,130.26 574.29,130.26 574.29,110.02 574.64,110.02 574.64,118.13 574.98,118.13 574.98,113.95 575.33,113.95 575.33,139.02 575.68,139.02 575.68,126.49 576.03,126.49 576.03,125.12 576.38,125.12 576.38,115.26 576.72,115.26 576.72,116.15 577.07,116.15 577.07,120.69 577.42,120.69 577.42,109.27 577.77,109.27 577.77,122.64 578.12,122.64 578.12,116.73 578.46,116.73 578.46,110.87 578.81,110.87 578.81,109.82 579.16,109.82 579.16,121.84 579.51,121.84 579.51,109.33 579.86,109.33 579.86,102.06 580.20,102.06 580.20,116.26 580.55,116.26 580.55,118.62 580.90,118.62 580.90,116.62 581.25,116.62 581.25,100.97 581.60,100.97 581.60,113.36 581.94,113.36 581.94,119.99 582.29,119.99 582.29,95.55 582.64,95.55 582.64,95.26 582.99,95.26 582.99,92.05 583.34,92.05 583.34,101.47 583.68,101.47 583.68,109.56 584.03,109.56 584.03,93.96 584.38,93.96 584.38,92.46 584.73,92.46 584.73,91.91 585.08,91.91 585.08,103.46 585.42,103.46 585.42,120.17 585.77,120.17 585.77,108.03 586.12,108.03 586.12,84.90 586.47,84.90 586.47,109.68 586.82,109.68 586.82,104.49 587.16,104.49 587.16,99.32 587.51,99.32 587.51,91.77 587.86,91.77 587.86,109.59 588.21,109.59 588.21,88.94 588.56,88.94 588.56,96.68 588.90,96.68 588.90,94.60 589.25,94.60 589.25,108.65 589.60,108.65 589.60,98.95 589.95,98.95 589.95,110.30 590.29,110.30 590.29,95.95 590.64,95.95 590.64,100.21 590.99,100.21 590.99,119.79 591.34,119.79 591.34,99.14 591.69,99.14 591.69,95.93 592.03,95.93 592.03,92.23 592.38,92.23 592.38,94.10 592.73,94.10 592.73,84.90 593.08,84.90 593.08,92.93 593.43,92.93 593.43,97.71 593.77,97.71 593.77,93.16 594.12,93.16 594.12,102.74 594.47,102.74 594.47,86.94 594.82,86.94 594.82,97.87 595.17,97.87 595.17,101.09 595.51,101.09 595.51,97.83 595.86,97.83 595.86,114.90 596.21,114.90 596.21,92.20 596.56,92.20 596.56,94.07 596.91,94.07 596.91,100.95 597.25,100.95 597.25,137.94 597.60,137.94 597.60,89.83 597.95,89.83 597.95,99.40 598.30,99.40 598.30,104.66 598.65,104.66 598.65,110.05 598.99,110.05 598.99,109.81 599.34,109.81 599.34,112.24 599.69,112.24 599.69,109.42 600.04,109.42 600.04,119.86 600.39,119.86 600.39,114.59 600.73,114.59 600.73,108.18 601.08,108.18 601.08,129.16 601.43,129.16 601.43,116.51 601.78,116.51 601.78,118.46 602.13,118.46 602.13,112.86 602.47,112.86 602.47,114.55 602.82,114.55 602.82,113.34 603.17,113.34 603.17,104.28 603.52,104.28 603.52,132.25 603.87,132.25 603.87,117.86 604.21,117.86 604.21,125.28 604.56,125.28 604.56,119.77 604.91,119.77 604.91,123.04 605.26,123.04 605.26,130.41 605.61,130.41 605.61,135.41 605.95,135.41 605.95,123.75 606.30,123.75 606.30,130.28 606.65,130.28 606.65,131.01 607.00,131.01 607.00,113.30 607.35,113.30 607.35,133.85 607.69,133.85 607.69,143.69 608.04,143.69 608.04,141.33 608.39,141.33 608.39,138.36 608.74,138.36 608.74,145.83 609.09,145.83 609.09,142.22 609.43,142.22 609.43,151.67 609.78,151.67 609.78,144.27 610.13,144.27 610.13,156.19 610.48,156.19 610.48,164.43 610.83,164.43 610.83,154.36 611.17,154.36 611.17,136.91 611.52,136.91 611.52,147.45 611.87,147.45 611.87,142.56 612.22,142.56 612.22,145.57 612.57,145.57 612.57,149.67 612.91,149.67 612.91,159.50 613.26,159.50 613.26,163.59 613.61,163.59 613.61,157.56 613.96,157.56 613.96,147.58 614.31,147.58 614.31,152.70 614.65,152.70 614.65,161.13 615.00,161.13 615.00,168.46 615.35,168.46 615.35,166.15 615.70,166.15 615.70,160.96 616.05,160.96 616.05,161.10 616.39,161.10 616.39,173.91 616.74,173.91 616.74,170.71 617.09,170.71 617.09,168.91 617.44,168.91 617.44,166.63 617.79,166.63 617.79,180.08 618.13,180.08 618.13,170.65 618.48,170.65 618.48,178.95 618.83,178.95 618.83,170.11 619.18,170.11 619.18,183.53 619.53,183.53 619.53,186.51 619.87,186.51 619.87,191.94 620.22,191.94 620.22,185.02 620.57,185.02 620.57,191.27 620.92,191.27 620.92,184.67 621.27,184.67 621.27,183.44 621.61,183.44 621.61,185.16 621.96,185.16 621.96,188.91 622.31,188.91 622.31,190.72 622.66,190.72 622.66,187.40 623.01,187.40 623.01,189.48 623.35,189.48 623.35,193.45 623.70,193.45 623.70,201.12 624.05,201.12 624.05,198.70 624.40,198.70 624.40,199.64 624.75,199.64 624.75,193.39 625.09,193.39 625.09,195.04 625.44,195.04 625.44,202.03 625.79,202.03 625.79,197.28 626.14,197.28 626.14,208.53 626.48,208.53 626.48,204.41 626.83,204.41 626.83,208.59 627.18,208.59 627.18,210.60 627.53,210.60 627.53,203.82 627.88,203.82 627.88,208.03 628.22,208.03 628.22,208.63 628.57,208.63 628.57,208.23 628.92,208.23 628.92,211.24 629.27,211.24 629.27,212.83 629.62,212.83 629.62,211.50 629.96,211.50 629.96,217.32 630.31,217.32 630.31,215.09 630.66,215.09 630.66,214.32 631.01,214.32 631.01,218.23 631.36,218.23 631.36,217.38 631.70,217.38 631.70,219.93 632.05,219.93 632.05,219.27 632.40,219.27 632.40,220.10 632.75,220.10 632.75,218.46 633.10,218.46 633.10,219.27 633.44,219.27 633.44,219.59 633.79,219.59 633.79,224.82 634.14,224.82 634.14,227.42 634.49,227.42 634.49,226.39 634.84,226.39 634.84,227.52 635.18,227.52 635.18,226.56 635.53,226.56 635.53,227.75 635.88,227.75 635.88,232.84 636.23,232.84 636.23,228.57 636.58,228.57 636.58,229.57 636.92,229.57 636.92,227.68 637.27,227.68 637.27,227.27 637.62,227.27 637.62,230.64 637.97,230.64 637.97,228.90 638.32,228.90 638.32,228.24 638.66,228.24 638.66,235.13 639.01,235.13 639.01,237.47 639.36,237.47 639.36,235.10 639.71,235.10 639.71,233.34 640.06,233.34 640.06,230.15 640.40,230.15 640.40,232.11 640.75,232.11 640.75,236.04 641.10,236.04 641.10,235.19 641.45,235.19 641.45,233.42 641.80,233.42 641.80,240.28 642.14,240.28 642.14,234.42 642.49,234.42 642.49,238.53 642.84,238.53 642.84,239.51 643.19,239.51 643.19,237.95 643.54,237.95 643.54,238.34 643.88,238.34 643.88,241.53 644.23,241.53 644.23,241.56 644.58,241.56 644.58,242.82 644.93,242.82 644.93,244.21 645.28,244.21 645.28,240.98 645.62,240.98 645.62,244.16 645.97,244.16 645.97,243.44 646.32,243.44 646.32,243.66 646.67,243.66 646.67,246.57 647.02,246.57 647.02,244.50 647.36,244.50 647.36,242.58 647.71,242.58 647.71,243.25 648.06,243.25 648.06,244.81 648.41,244.81 648.41,245.12 648.76,245.12 648.76,244.72 649.10,244.72 649.10,248.95 649.45,248.95 649.45,249.85 649.80,249.85 649.80,248.28 650.15,248.28 650.15,245.67 650.50,245.67 650.50,246.62 650.84,246.62 650.84,244.24 651.19,244.24 651.19,246.87 651.54,246.87 651.54,249.78 651.89,249.78 651.89,250.09 652.24,250.09 652.24,250.56 652.58,250.56 652.58,250.75 652.93,250.75 652.93,249.88 653.28,249.88 653.28,247.99 653.63,247.99 653.63,250.40 653.98,250.40 653.98,247.66 654.32,247.66 654.32,249.09 654.67,249.09 654.67,251.85 655.02,251.85 655.02,250.13 655.37,250.13 655.37,252.51 655.72,252.51 655.72,251.70 656.06,251.70 656.06,250.74 656.41,250.74 656.41,254.38 656.76,254.38 656.76,248.68 657.11,248.68 657.11,253.54 657.46,253.54 657.46,251.35 657.80,251.35 657.80,253.11 658.15,253.11 658.15,250.53 658.50,250.53 658.50,253.62 658.85,253.62 658.85,252.81 659.20,252.81 659.20,249.28 659.54,249.28 659.54,250.57 659.89,250.57 659.89,252.60 660.24,252.60 660.24,254.07 660.59,254.07 660.59,253.00 660.94,253.00 660.94,255.87 661.28,255.87 661.28,254.53 661.63,254.53 661.63,253.47 661.98,253.47 661.98,253.15 662.33,253.15 662.33,254.20 662.67,254.20 662.67,252.98 663.02,252.98 663.02,253.47 663.37,253.47 663.37,255.13 663.72,255.13 663.72,254.02 664.07,254.02 664.07,254.54 664.41,254.54 664.41,252.88 664.76,252.88 664.76,256.65 665.11,256.65 665.11,254.24 665.46,254.24 665.46,255.24 665.81,255.24 665.81,253.35 666.15,253.35 666.15,257.65 666.50,257.65 666.50,253.58 666.85,253.58 666.85,255.51 667.20,255.51 667.20,255.03 667.55,255.03 667.55,257.65 667.89,257.65 667.89,257.65 668.24,257.65 668.24,256.25 668.59,256.25 668.59,255.91 668.94,255.91 668.94,258.79 669.29,258.79 669.29,256.72 669.63,256.72 669.63,256.68 669.98,256.68 669.98,256.53 670.33,256.53 670.33,256.13 670.68,256.13 670.68,256.15 671.03,256.15 671.03,256.78 671.37,256.78 671.37,257.65 671.72,257.65 671.72,258.22 672.07,258.22 672.07,257.08 672.42,257.08 672.42,255.78 672.77,255.78 672.77,256.97 673.11,256.97 673.11,256.47 673.46,256.47 673.46,258.22 673.81,258.22 673.81,256.52 674.16,256.52 674.16,257.65 674.51,257.65 674.51,257.65 674.85,257.65 674.85,257.08 675.20,257.08 675.20,257.08 675.55,257.08 675.55,257.65 675.90,257.65 675.90,257.65 676.25,257.65 676.25,257.08 676.59,257.08 676.59,258.22 676.94,258.22 676.94,258.22 677.29,258.22 677.29,258.22 677.64,258.22 677.64,256.84 677.99,256.84 677.99,258.79 678.33,258.79 678.33,258.22 678.68,258.22 678.68,257.65 679.03,257.65 679.03,257.65 679.38,257.65 679.38,258.79 679.73,258.79 679.73,259.36 680.07,259.36 680.07,258.79 680.42,258.79 680.42,258.22 680.77,258.22 680.77,258.22 681.12,258.22 681.12,258.79 681.47,258.79 681.47,258.22 681.81,258.22 681.81,258.79 682.16,258.79 682.16,258.79 682.51,258.79 682.51,258.22 682.86,258.22 682.86,257.65 683.21,257.65 683.21,258.79 683.55,258.79 683.55,259.36 683.90,259.36 683.90,258.22 684.25,258.22 684.25,259.93 684.60,259.93 684.60,259.36 684.95,259.36 684.95,258.79 685.29,258.79 685.29,258.22 685.64,258.22 685.64,259.36 685.99,259.36 685.99,258.79 686.34,258.79 686.34,258.22 686.69,258.22 686.69,259.93 687.03,259.93 687.03,259.93 687.38,259.93 687.38,258.22 687.73,258.22 687.73,258.79 688.08,258.79 688.08,259.36 688.43,259.36 688.43,258.79 688.77,258.79 688.77,258.79 689.12,258.79 689.12,259.36 689.47,259.36 689.47,258.22 689.82,258.22 689.82,260.50 690.17,260.50 690.17,258.79 690.51,258.79 690.51,259.36 690.86,259.36 690.86,259.36 691.21,259.36 691.21,259.36 691.56,259.36 691.56,259.93 691.91,259.93 691.91,259.36 692.25,259.36 692.25,259.93 692.60,259.93 692.60,259.93 692.95,259.93 692.95,259.36 693.30,259.36 693.30,260.50 693.65,260.50 693.65,259.93 693.99,259.93 693.99,258.79 694.34,258.79 694.34,259.93 694.69,259.93 694.69,259.36 695.04,259.36 695.04,259.36 695.39,259.36 695.39,259.93 695.73,259.93 695.73,259.36 696.08,259.36 696.08,259.93 696.43,259.93 696.43,260.50 696.78,260.50 696.78,259.93 697.13,259.93 697.13,259.93 697.47,259.93 697.47,259.93 697.82,259.93 697.82,259.36 698.17,259.36 698.17,259.93 698.52,259.93 698.52,259.93 698.86,259.93 698.86,259.93 699.21,259.93 699.21,259.93 699.56,259.93 699.56,259.93 699.91,259.93 699.91,259.36 700.26,259.36 700.26,259.93 700.60,259.93 700.60,260.50 700.95,260.50 700.95,259.36 701.30,259.36 701.30,259.36 701.65,259.36 701.65,259.93 702.00,259.93 702.00,260.50 702.34,260.50 702.34,259.93 702.69,259.93 702.69,259.93 703.04,259.93 703.04,259.93 703.39,259.93 703.39,259.93 703.74,259.93 703.74,259.93 704.08,259.93 704.08,259.93 704.43,259.93 704.43,259.93 704.78,259.93 704.78,259.93 705.13,259.93 705.13,260.50 705.48,260.50 705.48,260.50 705.82,260.50 705.82,260.50 706.17,260.50 706.17,259.93 706.52,259.93 706.52,260.50 706.87,260.50 706.87,260.50 707.22,260.50 707.22,259.93 707.56,259.93 707.56,259.93 707.91,259.93 707.91,259.93 708.26,259.93 708.26,259.93 708.61,259.93 708.61,259.93 708.96,259.93 708.96,259.93 709.30,259.93 709.30,260.50 709.65,260.50 709.65,260.50 710.00,260.50 710.00,259.93 710.35,259.93 710.35,259.93 710.70,259.93 710.70,260.50 711.04,260.50 711.04,259.93 711.39,259.93 711.39,259.93 711.74,259.93 711.74,260.50 712.09,260.50 712.09,260.50 712.44,260.50 712.44,260.50 712.78,260.50 712.78,260.50 713.13,260.50 713.13,260.50 713.48,260.50 713.48,259.93 713.83,259.93 713.83,260.50 714.18,260.50 714.18,260.50 714.52,260.50 714.52,260.50 714.87,260.50 714.87,260.50 715.22,260.50 715.22,260.50 715.57,260.50 715.57,259.93 715.92,259.93 715.92,260.50 716.26,260.50 716.26,259.93 716.61,259.93 716.61,260.50 716.96,260.50 716.96,260.50 717.31,260.50 717.31,259.93 717.66,259.93 717.66,259.93 718.00,259.93 718.00,260.50 718.35,260.50 718.35,260.50 718.70,260.50 718.70,260.50 719.05,260.50 719.05,260.50 719.40,260.50 719.40,260.50 719.74,260.50 719.74,260.50 720.09,260.50 720.09,260.50 720.44,260.50 720.44,260.50 720.79,260.50 720.79,260.50 721.14,260.50 721.14,259.93 721.48,259.93 721.48,260.50 721.83,260.50 721.83,260.50 722.18,260.50 722.18,260.50 722.53,260.50 722.53,260.50 722.88,260.50 722.88,260.50 723.22,260.50 723.22,260.50 723.57,260.50 723.57,260.50 723.92,260.50 723.92,260.50 724.27,260.50 724.27,259.93 724.62,259.93 724.62,260.50 724.96,260.50 724.96,260.50 725.31,260.50 725.31,260.50 725.66,260.50 725.66,260.50 726.01,260.50 726.01,260.50 726.36,260.50 726.36,260.50 726.70,260.50 726.70,260.50 727.05,260.50 727.05,260.50 727.40,260.50 727.40,260.50 727.75,260.50 727.75,260.50 728.10,260.50 728.10,260.50 728.44,260.50 728.44,260.50 728.79,260.50 728.79,260.50 729.14,260.50 729.14,260.50 729.49,260.50 729.49,260.50 729.84,260.50 729.84,260.50 730.18,260.50 730.18,260.50 730.53,260.50 730.53,260.50 730.88,260.50 730.88,260.50 731.23,260.50 731.23,260.50 731.58,260.50 731.58,260.50 731.92,260.50 731.92,260.50 732.27,260.50 732.27,260.50 732.62,260.50 732.62,260.50 732.97,260.50 732.97,260.50 733.31,260.50 733.31,260.50 733.66,260.50 733.66,260.50 734.01,260.50 734.01,260.50 734.36,260.50 734.36,260.50 734.71,260.50 734.71,260.50 735.05,260.50 735.05,260.50 735.40,260.50 735.40,260.50 735.75,260.50 735.75,260.50 736.10,260.50 736.10,260.50 736.45,260.50 736.45,260.50 736.79,260.50 736.79,260.50 737.14,260.50 737.14,260.50 737.49,260.50 737.49,260.50 737.84,260.50 737.84,260.50 738.19,260.50 738.19,260.50 738.53,260.50 738.53,260.50 738.88,260.50 738.88,260.50 739.23,260.50 739.23,260.50 739.58,260.50 739.58,260.50 739.93,260.50 739.93,260.50 740.27,260.50 740.27,260.50 740.62,260.50 740.62,260.50 740.97,260.50 740.97,260.50 741.32,260.50 741.32,260.50 741.67,260.50 741.67,260.50 742.01,260.50 742.01,260.50 742.36,260.50 742.36,260.50 742.71,260.50 742.71,260.50 743.06,260.50 743.06,260.50 743.41,260.50 743.41,260.50 743.75,260.50 743.75,260.50 744.10,260.50 744.10,260.50 744.45,260.50 744.45,260.50 744.80,260.50 744.80,260.50 745.15,260.50 745.15,260.50 745.49,260.50 745.49,260.50 745.84,260.50 745.84,260.50 746.19,260.50 746.19,260.50 746.54,260.50 746.54,260.50 746.89,260.50 746.89,260.50 747.23,260.50 747.23,260.50 747.58,260.50 747.58,260.50 747.93,260.50 747.93,260.50 748.28,260.50 748.28,260.50 748.63,260.50 748.63,260.50 748.97,260.50 748.97,260.50 749.32,260.50 749.32,260.50 749.67,260.50 749.67,260.50 750.02,260.50 750.02,260.50 750.37,260.50 750.37,260.50 750.71,260.50 750.71,260.50 751.06,260.50 751.06,260.50 751.41,260.50 751.41,260.50 751.76,260.50 751.76,260.50 752.11,260.50 752.11,260.50 752.45,260.50 752.45,260.50 752.80,260.50 752.80,260.50 753.15,260.50 753.15,260.50 753.50,260.50 753.50,260.50 753.85,260.50 753.85,260.50 754.19,260.50 754.19,260.50 754.54,260.50 754.54,260.50 754.89,260.50 754.89,260.50 755.24,260.50 755.24,260.50 755.59,260.50 755.59,260.50 755.93,260.50 755.93,260.50 756.28,260.50 756.28,260.50 756.63,260.50 756.63,260.50 756.98,260.50 756.98,260.50 757.33,260.50 757.33,260.50 757.67,260.50 757.67,260.50 758.02,260.50 758.02,260.50 758.37,260.50 758.37,260.50 758.72,260.50 758.72,260.50 759.07,260.50 759.07,260.50 759.41,260.50 759.41,260.50 759.76,260.50 759.76,260.50 760.11,260.50 760.11,260.50 760.46,260.50 760.46,260.50 760.81,260.50 760.81,260.50 761.15,260.50 761.15,260.50 761.50,260.50 761.50,260.50 761.85,260.50 761.85,260.50 762.20,260.50 762.20,260.50 762.55,260.50 762.55,260.50 762.89,260.50 762.89,260.50 763.24,260.50 763.24,260.50 763.59,260.50 763.59,260.50 763.94,260.50 763.94,260.50 764.29,260.50 764.29,260.50 764.63,260.50 764.63,260.50 764.98,260.50 764.98,260.50 765.33,260.50 765.33,260.50 765.68,260.50 765.68,260.50 766.03,260.50 766.03,260.50 766.37,260.50 766.37,260.50 766.72,260.50 766.72,260.50 767.07,260.50 767.07,260.50 767.42,260.50 767.42,260.50 767.77,260.50 767.77,260.50 768.11,260.50 768.11,260.50 768.46,260.50 768.46,260.50 768.81,260.50 768.81,260.50 769.16,260.50 L769.16,260.50 Z" fill="rgb(105,105,255)" stroke="none"/>
<rect x="404" y="260" width="384" height="1" fill="#0000ff" shape-rendering="crispEdges"/>
<path d="M421.18,260.50 421.52,260.50 421.52,260.50 421.87,260.50 421.87,260.50 422.22,260.50 422.22,260.50 422.57,260.50 422.57,260.50 422.92,260.50 422.92,260.50 423.26,260.50 423.26,260.50 423.61,260.50 423.61,260.50 423.96,260.50 423.96,260.50 424.31,260.50 424.31,260.50 424.66,260.50 424.66,260.50 425.00,260.50 425.00,260.50 425.35,260.50 425.35,260.50 425.70,260.50 425.70,260.50 426.05,260.50 426.05,260.50 426.40,260.50 426.40,260.50 426.74,260.50 426.74,260.50 427.09,260.50 427.09,260.50 427.44,260.50 427.44,260.50 427.79,260.50 427.79,260.50 428.14,260.50 428.14,260.50 428.48,260.50 428.48,260.50 428.83,260.50 428.83,260.50 429.18,260.50 429.18,260.50 429.53,260.50 429.53,260.50 429.88,260.50 429.88,260.50 430.22,260.50 430.22,260.50 430.57,260.50 430.57,260.50 430.92,260.50 430.92,260.50 431.27,260.50 431.27,260.50 431.62,260.50 431.62,260.50 431.96,260.50 431.96,260.50 432.31,260.50 432.31,260.50 432.66,260.50 432.66,260.50 433.01,260.50 433.01,260.50 433.36,260.50 433.36,260.50 433.70,260.50 433.70,260.50 434.05,260.50 434.05,260.50 434.40,260.50 434.40,260.50 434.75,260.50 434.75,260.50 435.10,260.50 435.10,260.50 435.44,260.50 435.44,260.50 435.79,260.50 435.79,260.50 436.14,260.50 436.14,260.50 436.49,260.50 436.49,260.50 436.84,260.50 436.84,260.50 437.18,260.50 437.18,260.50 437.53,260.50 437.53,260.50 437.88,260.50 437.88,260.50 438.23,260.50 438.23,260.50 438.58,260.50 438.58,260.50 438.92,260.50 438.92,260.50 439.27,260.50 439.27,260.50 439.62,260.50 439.62,260.50 439.97,260.50 439.97,260.50 440.32,260.50 440.32,260.50 440.66,260.50 440.66,260.50 441.01,260.50 441.01,260.50 441.36,260.50 441.36,260.50 441.71,260.50 441.71,260.50 442.06,260.50 442.06,260.50 442.40,260.50 442.40,260.50 442.75,260.50 442.75,260.50 443.10,260.50 443.10,260.50 443.45,260.50 443.45,260.50 443.80,260.50 443.80,260.50 444.14,260.50 444.14,260.50 444.49,260.50 444.49,260.50 444.84,260.50 444.84,260.50 445.19,260.50 445.19,260.50 445.54,260.50 445.54,260.50 445.88,260.50 445.88,260.50 446.23,260.50 446.23,260.50 446.58,260.50 446.58,260.50 446.93,260.50 446.93,260.50 447.27,260.50 447.27,260.50 447.62,260.50 447.62,260.50 447.97,260.50 447.97,260.50 448.32,260.50 448.32,260.50 448.67,260.50 448.67,260.50 449.01,260.50 449.01,260.50 449.36,260.50 449.36,260.50 449.71,260.50 449.71,260.50 450.06,260.50 450.06,260.50 450.41,260.50 450.41,260.50 450.75,260.50 450.75,260.50 451.10,260.50 451.10,260.50 451.45,260.50 451.45,260.50 451.80,260.50 451.80,260.50 452.15,260.50 452.15,260.50 452.49,260.50 452.49,260.50 452.84,260.50 452.84,260.50 453.19,260.50 453.19,260.50 453.54,260.50 453.54,260.50 453.89,260.50 453.89,260.50 454.23,260.50 454.23,260.50 454.58,260.50 454.58,260.50 454.93,260.50 454.93,260.50 455.28,260.50 455.28,260.50 455.63,260.50 455.63,260.50 455.97,260.50 455.97,260.50 456.32,260.50 456.32,260.50 456.67,260.50 456.67,260.50 457.02,260.50 457.02,260.50 457.37,260.50 457.37,260.50 457.71,260.50 457.71,260.50 458.06,260.50 458.06,260.50 458.41,260.50 458.41,260.50 458.76,260.50 458.76,260.50 459.11,260.50 459.11,260.50 459.45,260.50 459.45,260.50 459.80,260.50 459.80,260.50 460.15,260.50 460.15,260.50 460.50,260.50 460.50,260.50 460.85,260.50 460.85,260.50 461.19,260.50 461.19,259.93 461.54,259.93 461.54,259.93 461.89,259.93 461.89,260.50 462.24,260.50 462.24,260.50 462.59,260.50 462.59,260.50 462.93,260.50 462.93,259.93 463.28,259.93 463.28,260.50 463.63,260.50 463.63,260.50 463.98,260.50 463.98,260.50 464.33,260.50 464.33,260.50 464.67,260.50 464.67,260.50 465.02,260.50 465.02,260.50 465.37,260.50 465.37,260.50 465.72,260.50 465.72,260.50 466.07,260.50 466.07,260.50 466.41,260.50 466.41,260.50 466.76,260.50 466.76,260.50 467.11,260.50 467.11,260.50 467.46,260.50 467.46,259.93 467.81,259.93 467.81,259.93 468.15,259.93 468.15,259.93 468.50,259.93 468.50,259.93 468.85,259.93 468.85,259.93 469.20,259.93 469.20,260.50 469.55,260.50 469.55,260.50 469.89,260.50 469.89,260.50 470.24,260.50 470.24,259.93 470.59,259.93 470.59,260.50 470.94,260.50 470.94,259.93 471.29,259.93 471.29,260.50 471.63,260.50 471.63,260.50 471.98,260.50 471.98,259.93 472.33,259.93 472.33,260.50 472.68,260.50 472.68,260.50 473.03,260.50 473.03,260.50 473.37,260.50 473.37,260.50 473.72,260.50 473.72,259.93 474.07,259.93 474.07,260.50 474.42,260.50 474.42,259.93 474.77,259.93 474.77,260.50 475.11,260.50 475.11,259.93 475.46,259.93 475.46,259.93 475.81,259.93 475.81,259.93 476.16,259.93 476.16,259.93 476.51,259.93 476.51,259.93 476.85,259.93 476.85,259.93 477.20,259.93 477.20,259.93 477.55,259.93 477.55,260.50 477.90,260.50 477.90,259.93 478.25,259.93 478.25,260.50 478.59,260.50 478.59,260.50 478.94,260.50 478.94,259.93 479.29,259.93 479.29,260.50 479.64,260.50 479.64,259.93 479.99,259.93 479.99,259.36 480.33,259.36 480.33,259.93 480.68,259.93 480.68,258.79 481.03,258.79 481.03,259.93 481.38,259.93 481.38,259.93 481.73,259.93 481.73,260.50 482.07,260.50 482.07,259.93 482.42,259.93 482.42,259.93 482.77,259.93 482.77,259.93 483.12,259.93 483.12,259.93 483.46,259.93 483.46,259.93 483.81,259.93 483.81,260.50 484.16,260.50 484.16,259.36 484.51,259.36 484.51,259.93 484.86,259.93 484.86,260.50 485.20,260.50 485.20,259.36 485.55,259.36 485.55,260.50 485.90,260.50 485.90,259.93 486.25,259.93 486.25,260.50 486.60,260.50 486.60,259.93 486.94,259.93 486.94,260.50 487.29,260.50 487.29,258.22 487.64,258.22 487.64,258.79 487.99,258.79 487.99,259.36 488.34,259.36 488.34,259.36 488.68,259.36 488.68,259.36 489.03,259.36 489.03,259.36 489.38,259.36 489.38,259.36 489.73,259.36 489.73,259.93 490.08,259.93 490.08,259.36 490.42,259.36 490.42,259.93 490.77,259.93 490.77,259.93 491.12,259.93 491.12,259.36 491.47,259.36 491.47,259.93 491.82,259.93 491.82,258.79 492.16,258.79 492.16,259.36 492.51,259.36 492.51,257.65 492.86,257.65 492.86,259.36 493.21,259.36 493.21,258.79 493.56,258.79 493.56,258.79 493.90,258.79 493.90,259.36 494.25,259.36 494.25,258.79 494.60,258.79 494.60,258.79 494.95,258.79 494.95,258.79 495.30,258.79 495.30,258.79 495.64,258.79 495.64,258.22 495.99,258.22 495.99,258.22 496.34,258.22 496.34,258.79 496.69,258.79 496.69,258.22 497.04,258.22 497.04,258.79 497.38,258.79 497.38,259.36 497.73,259.36 497.73,258.79 498.08,258.79 498.08,258.79 498.43,258.79 498.43,258.79 498.78,258.79 498.78,258.22 499.12,258.22 499.12,258.22 499.47,258.22 499.47,257.65 499.82,257.65 499.82,257.65 500.17,257.65 500.17,258.79 500.52,258.79 500.52,257.65 500.86,257.65 500.86,258.22 501.21,258.22 501.21,257.65 501.56,257.65 501.56,257.08 501.91,257.08 501.91,258.22 502.26,258.22 502.26,257.08 502.60,257.08 502.60,256.99 502.95,256.99 502.95,257.65 503.30,257.65 503.30,258.79 503.65,258.79 503.65,257.65 504.00,257.65 504.00,258.79 504.34,258.79 504.34,256.93 504.69,256.93 504.69,257.65 505.04,257.65 505.04,257.65 505.39,257.65 505.39,255.97 505.74,255.97 505.74,256.88 506.08,256.88 506.08,257.08 506.43,257.08 506.43,258.22 506.78,258.22 506.78,257.08 507.13,257.08 507.13,257.65 507.48,257.65 507.48,256.98 507.82,256.98 507.82,258.22 508.17,258.22 508.17,255.87 508.52,255.87 508.52,255.37 508.87,255.37 508.87,256.79 509.22,256.79 509.22,257.65 509.56,257.65 509.56,256.48 509.91,256.48 509.91,256.54 510.26,256.54 510.26,255.44 510.61,255.44 510.61,256.36 510.96,256.36 510.96,256.71 511.30,256.71 511.30,257.65 511.65,257.65 511.65,256.42 512.00,256.42 512.00,258.22 512.35,258.22 512.35,257.08 512.70,257.08 512.70,254.99 513.04,254.99 513.04,255.95 513.39,255.95 513.39,255.57 513.74,255.57 513.74,256.13 514.09,256.13 514.09,256.29 514.44,256.29 514.44,255.44 514.78,255.44 514.78,254.78 515.13,254.78 515.13,254.27 515.48,254.27 515.48,255.55 515.83,255.55 515.83,254.33 516.18,254.33 516.18,253.55 516.52,253.55 516.52,253.94 516.87,253.94 516.87,252.30 517.22,252.30 517.22,254.52 517.57,254.52 517.57,256.36 517.92,256.36 517.92,254.08 518.26,254.08 518.26,253.21 518.61,253.21 518.61,252.28 518.96,252.28 518.96,252.78 519.31,252.78 519.31,250.90 519.65,250.90 519.65,252.02 520.00,252.02 520.00,252.75 520.35,252.75 520.35,253.74 520.70,253.74 520.70,253.18 521.05,253.18 521.05,250.77 521.39,250.77 521.39,249.26 521.74,249.26 521.74,251.30 522.09,251.30 522.09,252.23 522.44,252.23 522.44,252.55 522.79,252.55 522.79,250.86 523.13,250.86 523.13,251.19 523.48,251.19 523.48,252.28 523.83,252.28 523.83,249.39 524.18,249.39 524.18,251.62 524.53,251.62 524.53,249.93 524.87,249.93 524.87,250.04 525.22,250.04 525.22,248.46 525.57,248.46 525.57,250.32 525.92,250.32 525.92,251.38 526.27,251.38 526.27,250.08 526.61,250.08 526.61,249.65 526.96,249.65 526.96,248.24 527.31,248.24 527.31,249.88 527.66,249.88 527.66,244.29 528.01,244.29 528.01,251.29 528.35,251.29 528.35,249.21 528.70,249.21 528.70,244.87 529.05,244.87 529.05,247.22 529.40,247.22 529.40,249.37 529.75,249.37 529.75,246.07 530.09,246.07 530.09,243.64 530.44,243.64 530.44,247.97 530.79,247.97 530.79,244.40 531.14,244.40 531.14,248.46 531.49,248.46 531.49,246.18 531.83,246.18 531.83,244.57 532.18,244.57 532.18,245.00 532.53,245.00 532.53,245.78 532.88,245.78 532.88,244.51 533.23,244.51 533.23,244.42 533.57,244.42 533.57,245.29 533.92,245.29 533.92,244.38 534.27,244.38 534.27,242.84 534.62,242.84 534.62,240.79 534.97,240.79 534.97,243.95 535.31,243.95 535.31,240.23 535.66,240.23 535.66,236.39 536.01,236.39 536.01,239.76 536.36,239.76 536.36,238.07 536.71,238.07 536.71,241.72 537.05,241.72 537.05,240.67 537.40,240.67 537.40,239.07 537.75,239.07 537.75,237.42 538.10,237.42 538.10,238.50 538.45,238.50 538.45,234.70 538.79,234.70 538.79,238.56 539.14,238.56 539.14,233.48 539.49,233.48 539.49,231.85 539.84,231.85 539.84,232.16 540.19,232.16 540.19,228.85 540.53,228.85 540.53,229.10 540.88,229.10 540.88,233.57 541.23,233.57 541.23,230.90 541.58,230.90 541.58,229.35 541.93,229.35 541.93,232.02 542.27,232.02 542.27,228.80 542.62,228.80 542.62,230.64 542.97,230.64 542.97,227.50 543.32,227.50 543.32,228.27 543.67,228.27 543.67,229.96 544.01,229.96 544.01,226.96 544.36,226.96 544.36,232.54 544.71,232.54 544.71,232.90 545.06,232.90 545.06,229.00 545.41,229.00 545.41,225.23 545.75,225.23 545.75,224.00 546.10,224.00 546.10,217.51 546.45,217.51 546.45,223.96 546.80,223.96 546.80,226.21 547.15,226.21 547.15,214.37 547.49,214.37 547.49,226.14 547.84,226.14 547.84,220.56 548.19,220.56 548.19,217.88 548.54,217.88 548.54,224.46 548.89,224.46 548.89,211.61 549.23,211.61 549.23,214.44 549.58,214.44 549.58,216.09 549.93,216.09 549.93,214.93 550.28,214.93 550.28,211.52 550.63,211.52 550.63,208.60 550.97,208.60 550.97,202.73 551.32,202.73 551.32,212.13 551.67,212.13 551.67,209.96 552.02,209.96 552.02,203.05 552.37,203.05 552.37,200.05 552.71,200.05 552.71,217.52 553.06,217.52 553.06,198.61 553.41,198.61 553.41,205.74 553.76,205.74 553.76,207.53 554.10,207.53 554.10,202.55 554.45,202.55 554.45,196.95 554.80,196.95 554.80,201.11 555.15,201.11 555.15,197.55 555.50,197.55 555.50,195.29 555.84,195.29 555.84,196.39 556.19,196.39 556.19,197.55 556.54,197.55 556.54,195.72 556.89,195.72 556.89,190.66 557.24,190.66 557.24,201.29 557.58,201.29 557.58,196.13 557.93,196.13 557.93,182.79 558.28,182.79 558.28,189.18 558.63,189.18 558.63,183.53 558.98,183.53 558.98,179.94 559.32,179.94 559.32,188.34 559.67,188.34 559.67,175.17 560.02,175.17 560.02,193.15 560.37,193.15 560.37,179.19 560.72,179.19 560.72,176.58 561.06,176.58 561.06,185.27 561.41,185.27 561.41,168.81 561.76,168.81 561.76,170.37 562.11,170.37 562.11,173.91 562.46,173.91 562.46,181.47 562.80,181.47 562.80,164.05 563.15,164.05 563.15,158.76 563.50,158.76 563.50,185.06 563.85,185.06 563.85,169.52 564.20,169.52 564.20,177.78 564.54,177.78 564.54,178.86 564.89,178.86 564.89,160.73 565.24,160.73 565.24,166.59 565.59,166.59 565.59,157.29 565.94,157.29 565.94,155.75 566.28,155.75 566.28,162.42 566.63,162.42 566.63,139.55 566.98,139.55 566.98,149.16 567.33,149.16 567.33,158.21 567.68,158.21 567.68,144.33 568.02,144.33 568.02,146.13 568.37,146.13 568.37,148.89 568.72,148.89 568.72,152.80 569.07,152.80 569.07,142.16 569.42,142.16 569.42,137.38 569.76,137.38 569.76,140.67 570.11,140.67 570.11,145.23 570.46,145.23 570.46,151.01 570.81,151.01 570.81,134.47 571.16,134.47 571.16,135.96 571.50,135.96 571.50,136.72 571.85,136.72 571.85,134.19 572.20,134.19 572.20,127.88 572.55,127.88 572.55,132.99 572.90,132.99 572.90,122.53 573.24,122.53 573.24,128.32 573.59,128.32 573.59,116.56 573.94,116.56 573.94,130.26 574.29,130.26 574.29,110.02 574.64,110.02 574.64,118.13 574.98,118.13 574.98,113.95 575.33,113.95 575.33,139.02 575.68,139.02 575.68,126.49 576.03,126.49 576.03,125.12 576.38,125.12 576.38,115.26 576.72,115.26 576.72,116.15 577.07,116.15 577.07,120.69 577.42,120.69 577.42,109.27 577.77,109.27 577.77,122.64 578.12,122.64 578.12,116.73 578.46,116.73 578.46,110.87 578.81,110.87 578.81,109.82 579.16,109.82 579.16,121.84 579.51,121.84 579.51,109.33 579.86,109.33 579.86,102.06 580.20,102.06 580.20,116.26 580.55,116.26 580.55,118.62 580.90,118.62 580.90,116.62 581.25,116.62 581.25,100.97 581.60,100.97 581.60,113.36 581.94,113.36 581.94,119.99 582.29,119.99 582.29,95.55 582.64,95.55 582.64,95.26 582.99,95.26 582.99,92.05 583.34,92.05 583.34,101.47 583.68,101.47 583.68,109.56 584.03,109.56 584.03,93.96 584.38,93.96 584.38,92.46 584.73,92.46 584.73,91.91 585.08,91.91 585.08,103.46 585.42,103.46 585.42,120.17 585.77,120.17 585.77,108.03 586.12,108.03 586.12,84.90 586.47,84.90 586.47,109.68 586.82,109.68 586.82,104.49 587.16,104.49 587.16,99.32 587.51,99.32 587.51,91.77 587.86,91.77 587.86,109.59 588.21,109.59 588.21,88.94 588.56,88.94 588.56,96.68 588.90,96.68 588.90,94.60 589.25,94.60 589.25,108.65 589.60,108.65 589.60,98.95 589.95,98.95 589.95,110.30 590.29,110.30 590.29,95.95 590.64,95.95 590.64,100.21 590.99,100.21 590.99,119.79 591.34,119.79 591.34,99.14 591.69,99.14 591.69,95.93 592.03,95.93 592.03,92.23 592.38,92.23 592.38,94.10 592.73,94.10 592.73,84.90 593.08,84.90 593.08,92.93 593.43,92.93 593.43,97.71 593.77,97.71 593.77,93.16 594.12,93.16 594.12,102.74 594.47,102.74 594.47,86.94 594.82,86.94 594.82,97.87 595.17,97.87 595.17,101.09 595.51,101.09 595.51,97.83 595.86,97.83 595.86,114.90 596.21,114.90 596.21,92.20 596.56,92.20 596.56,94.07 596.91,94.07 596.91,100.95 597.25,100.95 597.25,137.94 597.60,137.94 597.60,89.83 597.95,89.83 597.95,99.40 598.30,99.40 598.30,104.66 598.65,104.66 598.65,110.05 598.99,110.05 598.99,109.81 599.34,109.81 599.34,112.24 599.69,112.24 599.69,109.42 600.04,109.42 600.04,119.86 600.39,119.86 600.39,114.59 600.73,114.59 600.73,108.18 601.08,108.18 601.08,129.16 601.43,129.16 601.43,116.51 601.78,116.51 601.78,118.46 602.13,118.46 602.13,112.86 602.47,112.86 602.47,114.55 602.82,114.55 602.82,113.34 603.17,113.34 603.17,104.28 603.52,104.28 603.52,132.25 603.87,132.25 603.87,117.86 604.21,117.86 604.21,125.28 604.56,125.28 604.56,119.77 604.91,119.77 604.91,123.04 605.26,123.04 605.26,130.41 605.61,130.41 605.61,135.41 605.95,135.41 605.95,123.75 606.30,123.75 606.30,130.28 606.65,130.28 606.65,131.01 607.00,131.01 607.00,113.30 607.35,113.30 607.35,133.85 607.69,133.85 607.69,143.69 608.04,143.69 608.04,141.33 608.39,141.33 608.39,138.36 608.74,138.36 608.74,145.83 609.09,145.83 609.09,142.22 609.43,142.22 609.43,151.67 609.78,151.67 609.78,144.27 610.13,144.27 610.13,156.19 610.48,156.19 610.48,164.43 610.83,164.43 610.83,154.36 611.17,154.36 611.17,136.91 611.52,136.91 611.52,147.45 611.87,147.45 611.87,142.56 612.22,142.56 612.22,145.57 612.57,145.57 612.57,149.67 612.91,149.67 612.91,159.50 613.26,159.50 613.26,163.59 613.61,163.59 613.61,157.56 613.96,157.56 613.96,147.58 614.31,147.58 614.31,152.70 614.65,152.70 614.65,161.13 615.00,161.13 615.00,168.46 615.35,168.46 615.35,166.15 615.70,166.15 615.70,160.96 616.05,160.96 616.05,161.10 616.39,161.10 616.39,173.91 616.74,173.91 616.74,170.71 617.09,170.71 617.09,168.91 617.44,168.91 617.44,166.63 617.79,166.63 617.79,180.08 618.13,180.08 618.13,170.65 618.48,170.65 618.48,178.95 618.83,178.95 618.83,170.11 619.18,170.11 619.18,183.53 619.53,183.53 619.53,186.51 619.87,186.51 619.87,191.94 620.22,191.94 620.22,185.02 620.57,185.02 620.57,191.27 620.92,191.27 620.92,184.67 621.27,184.67 621.27,183.44 621.61,183.44 621.61,185.16 621.96,185.16 621.96,188.91 622.31,188.91 622.31,190.72 622.66,190.72 622.66,187.40 623.01,187.40 623.01,189.48 623.35,189.48 623.35,193.45 623.70,193.45 623.70,201.12 624.05,201.12 624.05,198.70 624.40,198.70 624.40,199.64 624.75,199.64 624.75,193.39 625.09,193.39 625.09,195.04 625.44,195.04 625.44,202.03 625.79,202.03 625.79,197.28 626.14,197.28 626.14,208.53 626.48,208.53 626.48,204.41 626.83,204.41 626.83,208.59 627.18,208.59 627.18,210.60 627.53,210.60 627.53,203.82 627.88,203.82 627.88,208.03 628.22,208.03 628.22,208.63 628.57,208.63 628.57,208.23 628.92,208.23 628.92,211.24 629.27,211.24 629.27,212.83 629.62,212.83 629.62,211.50 629.96,211.50 629.96,217.32 630.31,217.32 630.31,215.09 630.66,215.09 630.66,214.32 631.01,214.32 631.01,218.23 631.36,218.23 631.36,217.38 631.70,217.38 631.70,219.93 632.05,219.93 632.05,219.27 632.40,219.27 632.40,220.10 632.75,220.10 632.75,218.46 633.10,218.46 633.10,219.27 633.44,219.27 633.44,219.59 633.79,219.59 633.79,224.82 634.14,224.82 634.14,227.42 634.49,227.42 634.49,226.39 634.84,226.39 634.84,227.52 635.18,227.52 635.18,226.56 635.53,226.56 635.53,227.75 635.88,227.75 635.88,232.84 636.23,232.84 636.23,228.57 636.58,228.57 636.58,229.57 636.92,229.57 636.92,227.68 637.27,227.68 637.27,227.27 637.62,227.27 637.62,230.64 637.97,230.64 637.97,228.90 638.32,228.90 638.32,228.24 638.66,228.24 638.66,235.13 639.01,235.13 639.01,237.47 639.36,237.47 639.36,235.10 639.71,235.10 639.71,233.34 640.06,233.34 640.06,230.15 640.40,230.15 640.40,232.11 640.75,232.11 640.75,236.04 641.10,236.04 641.10,235.19 641.45,235.19 641.45,233.42 641.80,233.42 641.80,240.28 642.14,240.28 642.14,234.42 642.49,234.42 642.49,238.53 642.84,238.53 642.84,239.51 643.19,239.51 643.19,237.95 643.54,237.95 643.54,238.34 643.88,238.34 643.88,241.53 644.23,241.53 644.23,241.56 644.58,241.56 644.58,242.82 644.93,242.82 644.93,244.21 645.28,244.21 645.28,240.98 645.62,240.98 645.62,244.16 645.97,244.16 645.97,243.44 646.32,243.44 646.32,243.66 646.67,243.66 646.67,246.57 647.02,246.57 647.02,244.50 647.36,244.50 647.36,242.58 647.71,242.58 647.71,243.25 648.06,243.25 648.06,244.81 648.41,244.81 648.41,245.12 648.76,245.12 648.76,244.72 649.10,244.72 649.10,248.95 649.45,248.95 649.45,249.85 649.80,249.85 649.80,248.28 650.15,248.28 650.15,245.67 650.50,245.67 650.50,246.62 650.84,246.62 650.84,244.24 651.19,244.24 651.19,246.87 651.54,246.87 651.54,249.78 651.89,249.78 651.89,250.09 652.24,250.09 652.24,250.56 652.58,250.56 652.58,250.75 652.93,250.75 652.93,249.88 653.28,249.88 653.28,247.99 653.63,247.99 653.63,250.40 653.98,250.40 653.98,247.66 654.32,247.66 654.32,249.09 654.67,249.09 654.67,251.85 655.02,251.85 655.02,250.13 655.37,250.13 655.37,252.51 655.72,252.51 655.72,251.70 656.06,251.70 656.06,250.74 656.41,250.74 656.41,254.38 656.76,254.38 656.76,248.68 657.11,248.68 657.11,253.54 657.46,253.54 657.46,251.35 657.80,251.35 657.80,253.11 658.15,253.11 658.15,250.53 658.50,250.53 658.50,253.62 658.85,253.62 658.85,252.81 659.20,252.81 659.20,249.28 659.54,249.28 659.54,250.57 659.89,250.57 659.89,252.60 660.24,252.60 660.24,254.07 660.59,254.07 660.59,253.00 660.94,253.00 660.94,255.87 661.28,255.87 661.28,254.53 661.63,254.53 661.63,253.47 661.98,253.47 661.98,253.15 662.33,253.15 662.33,254.20 662.67,254.20 662.67,252.98 663.02,252.98 663.02,253.47 663.37,253.47 663.37,255.13 663.72,255.13 663.72,254.02 664.07,254.02 664.07,254.54 664.41,254.54 664.41,252.88 664.76,252.88 664.76,256.65 665.11,256.65 665.11,254.24 665.46,254.24 665.46,255.24 665.81,255.24 665.81,253.35 666.15,253.35 666.15,257.65 666.50,257.65 666.50,253.58 666.85,253.58 666.85,255.51 667.20,255.51 667.20,255.03 667.55,255.03 667.55,257.65 667.89,257.65 667.89,257.65 668.24,257.65 668.24,256.25 668.59,256.25 668.59,255.91 668.94,255.91 668.94,258.79 669.29,258.79 669.29,256.72 669.63,256.72 669.63,256.68 669.98,256.68 669.98,256.53 670.33,256.53 670.33,256.13 670.68,256.13 670.68,256.15 671.03,256.15 671.03,256.78 671.37,256.78 671.37,257.65 671.72,257.65 671.72,258.22 672.07,258.22 672.07,257.08 672.42,257.08 672.42,255.78 672.77,255.78 672.77,256.97 673.11,256.97 673.11,256.47 673.46,256.47 673.46,258.22 673.81,258.22 673.81,256.52 674.16,256.52 674.16,257.65 674.51,257.65 674.51,257.65 674.85,257.65 674.85,257.08 675.20,257.08 675.20,257.08 675.55,257.08 675.55,257.65 675.90,257.65 675.90,257.65 676.25,257.65 676.25,257.08 676.59,257.08 676.59,258.22 676.94,258.22 676.94,258.22 677.29,258.22 677.29,258.22 677.64,258.22 677.64,256.84 677.99,256.84 677.99,258.79 678.33,258.79 678.33,258.22 678.68,258.22 678.68,257.65 679.03,257.65 679.03,257.65 679.38,257.65 679.38,258.79 679.73,258.79 679.73,259.36 680.07,259.36 680.07,258.79 680.42,258.79 680.42,258.22 680.77,258.22 680.77,258.22 681.12,258.22 681.12,258.79 681.47,258.79 681.47,258.22 681.81,258.22 681.81,258.79 682.16,258.79 682.16,258.79 682.51,258.79 682.51,258.22 682.86,258.22 682.86,257.65 683.21,257.65 683.21,258.79 683.55,258.79 683.55,259.36 683.90,259.36 683.90,258.22 684.25,258.22 684.25,259.93 684.60,259.93 684.60,259.36 684.95,259.36 684.95,258.79 685.29,258.79 685.29,258.22 685.64,258.22 685.64,259.36 685.99,259.36 685.99,258.79 686.34,258.79 686.34,258.22 686.69,258.22 686.69,259.93 687.03,259.93 687.03,259.93 687.38,259.93 687.38,258.22 687.73,258.22 687.73,258.79 688.08,258.79 688.08,259.36 688.43,259.36 688.43,258.79 688.77,258.79 688.77,258.79 689.12,258.79 689.12,259.36 689.47,259.36 689.47,258.22 689.82,258.22 689.82,260.50 690.17,260.50 690.17,258.79 690.51,258.79 690.51,259.36 690.86,259.36 690.86,259.36 691.21,259.36 691.21,259.36 691.56,259.36 691.56,259.93 691.91,259.93 691.91,259.36 692.25,259.36 692.25,259.93 692.60,259.93 692.60,259.93 692.95,259.93 692.95,259.36 693.30,259.36 693.30,260.50 693.65,260.50 693.65,259.93 693.99,259.93 693.99,258.79 694.34,258.79 694.34,259.93 694.69,259.93 694.69,259.36 695.04,259.36 695.04,259.36 695.39,259.36 695.39,259.93 695.73,259.93 695.73,259.36 696.08,259.36 696.08,259.93 696.43,259.93 696.43,260.50 696.78,260.50 696.78,259.93 697.13,259.93 697.13,259.93 697.47,259.93 697.47,259.93 697.82,259.93 697.82,259.36 698.17,259.36 698.17,259.93 698.52,259.93 698.52,259.93 698.86,259.93 698.86,259.93 699.21,259.93 699.21,259.93 699.56,259.93 699.56,259.93 699.91,259.93 699.91,259.36 700.26,259.36 700.26,259.93 700.60,259.93 700.60,260.50 700.95,260.50 700.95,259.36 701.30,259.36 701.30,259.36 701.65,259.36 701.65,259.93 702.00,259.93 702.00,260.50 702.34,260.50 702.34,259.93 702.69,259.93 702.69,259.93 703.04,259.93 703.04,259.93 703.39,259.93 703.39,259.93 703.74,259.93 703.74,259.93 704.08,259.93 704.08,259.93 704.43,259.93 704.43,259.93 704.78,259.93 704.78,259.93 705.13,259.93 705.13,260.50 705.48,260.50 705.48,260.50 705.82,260.50 705.82,260.50 706.17,260.50 706.17,259.93 706.52,259.93 706.52,260.50 706.87,260.50 706.87,260.50 707.22,260.50 707.22,259.93 707.56,259.93 707.56,259.93 707.91,259.93 707.91,259.93 708.26,259.93 708.26,259.93 708.61,259.93 708.61,259.93 708.96,259.93 708.96,259.93 709.30,259.93 709.30,260.50 709.65,260.50 709.65,260.50 710.00,260.50 710.00,259.93 710.35,259.93 710.35,259.93 710.70,259.93 710.70,260.50 711.04,260.50 711.04,259.93 711.39,259.93 711.39,259.93 711.74,259.93 711.74,260.50 712.09,260.50 712.09,260.50 712.44,260.50 712.44,260.50 712.78,260.50 712.78,260.50 713.13,260.50 713.13,260.50 713.48,260.50 713.48,259.93 713.83,259.93 713.83,260.50 714.18,260.50 714.18,260.50 714.52,260.50 714.52,260.50 714.87,260.50 714.87,260.50 715.22,260.50 715.22,260.50 715.57,260.50 715.57,259.93 715.92,259.93 715.92,260.50 716.26,260.50 716.26,259.93 716.61,259.93 716.61,260.50 716.96,260.50 716.96,260.50 717.31,260.50 717.31,259.93 717.66,259.93 717.66,259.93 718.00,259.93 718.00,260.50 718.35,260.50 718.35,260.50 718.70,260.50 718.70,260.50 719.05,260.50 719.05,260.50 719.40,260.50 719.40,260.50 719.74,260.50 719.74,260.50 720.09,260.50 720.09,260.50 720.44,260.50 720.44,260.50 720.79,260.50 720.79,260.50 721.14,260.50 721.14,259.93 721.48,259.93 721.48,260.50 721.83,260.50 721.83,260.50 722.18,260.50 722.18,260.50 722.53,260.50 722.53,260.50 722.88,260.50 722.88,260.50 723.22,260.50 723.22,260.50 723.57,260.50 723.57,260.50 723.92,260.50 723.92,260.50 724.27,260.50 724.27,259.93 724.62,259.93 724.62,260.50 724.96,260.50 724.96,260.50 725.31,260.50 725.31,260.50 725.66,260.50 725.66,260.50 726.01,260.50 726.01,260.50 726.36,260.50 726.36,260.50 726.70,260.50 726.70,260.50 727.05,260.50 727.05,260.50 727.40,260.50 727.40,260.50 727.75,260.50 727.75,260.50 728.10,260.50 728.10,260.50 728.44,260.50 728.44,260.50 728.79,260.50 728.79,260.50 729.14,260.50 729.14,260.50 729.49,260.50 729.49,260.50 729.84,260.50 729.84,260.50 730.18,260.50 730.18,260.50 730.53,260.50 730.53,260.50 730.88,260.50 730.88,260.50 731.23,260.50 731.23,260.50 731.58,260.50 731.58,260.50 731.92,260.50 731.92,260.50 732.27,260.50 732.27,260.50 732.62,260.50 732.62,260.50 732.97,260.50 732.97,260.50 733.31,260.50 733.31,260.50 733.66,260.50 733.66,260.50 734.01,260.50 734.01,260.50 734.36,260.50 734.36,260.50 734.71,260.50 734.71,260.50 735.05,260.50 735.05,260.50 735.40,260.50 735.40,260.50 735.75,260.50 735.75,260.50 736.10,260.50 736.10,260.50 736.45,260.50 736.45,260.50 736.79,260.50 736.79,260.50 737.14,260.50 737.14,260.50 737.49,260.50 737.49,260.50 737.84,260.50 737.84,260.50 738.19,260.50 738.19,260.50 738.53,260.50 738.53,260.50 738.88,260.50 738.88,260.50 739.23,260.50 739.23,260.50 739.58,260.50 739.58,260.50 739.93,260.50 739.93,260.50 740.27,260.50 740.27,260.50 740.62,260.50 740.62,260.50 740.97,260.50 740.97,260.50 741.32,260.50 741.32,260.50 741.67,260.50 741.67,260.50 742.01,260.50 742.01,260.50 742.36,260.50 742.36,260.50 742.71,260.50 742.71,260.50 743.06,260.50 743.06,260.50 743.41,260.50 743.41,260.50 743.75,260.50 743.75,260.50 744.10,260.50 744.10,260.50 744.45,260.50 744.45,260.50 744.80,260.50 744.80,260.50 745.15,260.50 745.15,260.50 745.49,260.50 745.49,260.50 745.84,260.50 745.84,260.50 746.19,260.50 746.19,260.50 746.54,260.50 746.54,260.50 746.89,260.50 746.89,260.50 747.23,260.50 747.23,260.50 747.58,260.50 747.58,260.50 747.93,260.50 747.93,260.50 748.28,260.50 748.28,260.50 748.63,260.50 748.63,260.50 748.97,260.50 748.97,260.50 749.32,260.50 749.32,260.50 749.67,260.50 749.67,260.50 750.02,260.50 750.02,260.50 750.37,260.50 750.37,260.50 750.71,260.50 750.71,260.50 751.06,260.50 751.06,260.50 751.41,260.50 751.41,260.50 751.76,260.50 751.76,260.50 752.11,260.50 752.11,260.50 752.45,260.50 752.45,260.50 752.80,260.50 752.80,260.50 753.15,260.50 753.15,260.50 753.50,260.50 753.50,260.50 753.85,260.50 753.85,260.50 754.19,260.50 754.19,260.50 754.54,260.50 754.54,260.50 754.89,260.50 754.89,260.50 755.24,260.50 755.24,260.50 755.59,260.50 755.59,260.50 755.93,260.50 755.93,260.50 756.28,260.50 756.28,260.50 756.63,260.50 756.63,260.50 756.98,260.50 756.98,260.50 757.33,260.50 757.33,260.50 757.67,260.50 757.67,260.50 758.02,260.50 758.02,260.50 758.37,260.50 758.37,260.50 758.72,260.50 758.72,260.50 759.07,260.50 759.07,260.50 759.41,260.50 759.41,260.50 759.76,260.50 759.76,260.50 760.11,260.50 760.11,260.50 760.46,260.50 760.46,260.50 760.81,260.50 760.81,260.50 761.15,260.50 761.15,260.50 761.50,260.50 761.50,260.50 761.85,260.50 761.85,260.50 762.20,260.50 762.20,260.50 762.55,260.50 762.55,260.50 762.89,260.50 762.89,260.50 763.24,260.50 763.24,260.50 763.59,260.50 763.59,260.50 763.94,260.50 763.94,260.50 764.29,260.50 764.29,260.50 764.63,260.50 764.63,260.50 764.98,260.50 764.98,260.50 765.33,260.50 765.33,260.50 765.68,260.50 765.68,260.50 766.03,260.50 766.03,260.50 766.37,260.50 766.37,260.50 766.72,260.50 766.72,260.50 767.07,260.50 767.07,260.50 767.42,260.50 767.42,260.50 767.77,260.50 767.77,260.50 768.11,260.50 768.11,260.50 768.46,260.50 768.46,260.50 768.81,260.50 768.81,260.50 769.16,260.50" fill="none" stroke="rgb(200,200,200)" stroke-width="1" stroke-linejoin="miter"/>
<rect x="494.90" y="233.1" width="2" height="28.30" fill="#000"/>
<rect x="535.00" y="215.9" width="2" height="45.50" fill="#000"/>
<rect x="563.40" y="128.4" width="2" height="133.00" fill="#000"/>
<rect x="613.30" y="128.4" width="2" height="133.00" fill="#000"/>
<rect x="643.50" y="215.9" width="2" height="45.50" fill="#000"/>
<rect x="691.70" y="233.1" width="2" height="28.30" fill="#000"/>
</g>
<path d="M442.4,123.2 H463.4" stroke="rgb(215,215,215)" stroke-width="1.6" fill="none"/>
<text transform="translate(472.4,128.0) scale(1,1.06)" font-size="12" text-anchor="start" textLength="125" lengthAdjust="spacing" >[-0.19,0.18] @ 0.6827</text>
<path d="M442.4,145.2 H463.4" stroke="rgb(215,215,215)" stroke-width="1.6" fill="none"/>
<text transform="translate(472.4,150.0) scale(1,1.06)" font-size="12" text-anchor="start" textLength="112" lengthAdjust="spacing" >[-0.40,0.41] @ 0.95</text>
<path d="M442.4,167.2 H463.4" stroke="rgb(215,215,215)" stroke-width="1.6" fill="none"/>
<text transform="translate(472.4,172.0) scale(1,1.06)" font-size="12" text-anchor="start" textLength="125" lengthAdjust="spacing" >[-0.70,0.76] @ 0.9973</text>
<path d="M589.95,73.5 V274.5" stroke="#ff0000" stroke-width="1.3" fill="none"/>
<rect x="404.5" y="73.5" width="383" height="201" fill="none" stroke="#000" stroke-width="1"/>
<path d="M428.5,274 V271" stroke="#8c8c8c" stroke-width="1" fill="none"/>
<text x="428.0" y="287" font-size="10.9" text-anchor="middle" textLength="20" lengthAdjust="spacing" >-1.2</text>
<path d="M455.5,274 V270" stroke="#505050" stroke-width="1" fill="none"/>
<text x="454.8" y="287" font-size="10.9" text-anchor="middle" textLength="10" lengthAdjust="spacing" >-1</text>
<path d="M482.5,274 V271" stroke="#8c8c8c" stroke-width="1" fill="none"/>
<text x="481.6" y="287" font-size="10.9" text-anchor="middle" textLength="20" lengthAdjust="spacing" >-0.8</text>
<path d="M509.5,274 V271" stroke="#8c8c8c" stroke-width="1" fill="none"/>
<text x="508.5" y="287" font-size="10.9" text-anchor="middle" textLength="20" lengthAdjust="spacing" >-0.6</text>
<path d="M536.5,274 V271" stroke="#8c8c8c" stroke-width="1" fill="none"/>
<text x="535.3" y="287" font-size="10.9" text-anchor="middle" textLength="20" lengthAdjust="spacing" >-0.4</text>
<path d="M563.5,274 V271" stroke="#8c8c8c" stroke-width="1" fill="none"/>
<text x="562.2" y="287" font-size="10.9" text-anchor="middle" textLength="20" lengthAdjust="spacing" >-0.2</text>
<path d="M590.5,275 V269" stroke="#000" stroke-width="1" fill="none"/>
<text x="589.0" y="287" font-size="10.9" text-anchor="middle" >0</text>
<path d="M616.5,274 V271" stroke="#8c8c8c" stroke-width="1" fill="none"/>
<text x="615.8" y="287" font-size="10.9" text-anchor="middle" textLength="16" lengthAdjust="spacing" >0.2</text>
<path d="M643.5,274 V271" stroke="#8c8c8c" stroke-width="1" fill="none"/>
<text x="642.7" y="287" font-size="10.9" text-anchor="middle" textLength="16" lengthAdjust="spacing" >0.4</text>
<path d="M670.5,274 V271" stroke="#8c8c8c" stroke-width="1" fill="none"/>
<text x="669.5" y="287" font-size="10.9" text-anchor="middle" textLength="16" lengthAdjust="spacing" >0.6</text>
<path d="M697.5,274 V271" stroke="#8c8c8c" stroke-width="1" fill="none"/>
<text x="696.4" y="287" font-size="10.9" text-anchor="middle" textLength="16" lengthAdjust="spacing" >0.8</text>
<path d="M724.5,274 V270" stroke="#505050" stroke-width="1" fill="none"/>
<text x="723.2" y="287" font-size="10.9" text-anchor="middle" >1</text>
<path d="M751.5,274 V271" stroke="#8c8c8c" stroke-width="1" fill="none"/>
<text x="750.0" y="287" font-size="10.9" text-anchor="middle" textLength="16" lengthAdjust="spacing" >1.2</text>
<path d="M777.5,274 V271" stroke="#8c8c8c" stroke-width="1" fill="none"/>
<text x="776.9" y="287" font-size="10.9" text-anchor="middle" textLength="16" lengthAdjust="spacing" >1.4</text>
<text transform="translate(592.5,308.7) scale(1,1.08)" font-size="10.67" text-anchor="middle" textLength="70.5" lengthAdjust="spacing" >Reading blocks</text>
<text transform="translate(433.1,64.0) scale(1,1.06)" font-size="14.67" text-anchor="start" textLength="322.9" lengthAdjust="spacing" >Distribution of duration (R - D) errors due to noise</text>
<path d="M90.0,534.4 L90.00,534.24 95.01,534.24 95.01,534.18 100.01,534.18 100.01,533.99 105.02,533.99 105.02,533.76 110.02,533.76 110.02,533.57 115.03,533.57 115.03,532.94 120.04,532.94 120.04,531.89 125.04,531.89 125.04,529.18 130.05,529.18 130.05,526.70 135.05,526.70 135.05,521.49 140.06,521.49 140.06,514.81 145.07,514.81 145.07,506.89 150.07,506.89 150.07,497.51 155.08,497.51 155.08,481.90 160.08,481.90 160.08,470.45 165.09,470.45 165.09,458.56 170.10,458.56 170.10,446.47 175.10,446.47 175.10,435.66 180.11,435.66 180.11,426.69 185.11,426.69 185.11,425.23 190.12,425.23 190.12,424.59 195.13,424.59 195.13,425.64 200.13,425.64 200.13,426.28 205.14,426.28 205.14,435.66 210.14,435.66 210.14,446.47 215.15,446.47 215.15,458.56 220.16,458.56 220.16,475.25 225.16,475.25 225.16,482.31 230.17,482.31 230.17,493.38 235.17,493.38 235.17,502.31 240.18,502.31 240.18,510.65 245.19,510.65 245.19,515.64 250.19,515.64 250.19,520.85 255.20,520.85 255.20,523.14 260.20,523.14 260.20,526.70 265.21,526.70 265.21,528.77 270.22,528.77 270.22,530.87 275.22,530.87 275.22,531.89 280.23,531.89 280.23,532.94 285.23,532.94 285.23,533.57 290.24,533.57 290.24,533.99 295.25,533.99 295.25,534.15 300.25,534.15 300.25,534.21 305.26,534.21 305.26,534.27 310.26,534.27 310.26,534.30 315.27,534.30 315.27,534.34 320.28,534.34 320.28,534.34 325.28,534.34 325.28,534.37 330.29,534.37 330.29,534.37 335.29,534.37 335.29,534.37 340.30,534.37 L340.30,534.4 Z" fill="rgb(105,105,255)" stroke="none"/>
<path d="M90.00,534.24 95.01,534.24 95.01,534.18 100.01,534.18 100.01,533.99 105.02,533.99 105.02,533.76 110.02,533.76 110.02,533.57 115.03,533.57 115.03,532.94 120.04,532.94 120.04,531.89 125.04,531.89 125.04,529.18 130.05,529.18 130.05,526.70 135.05,526.70 135.05,521.49 140.06,521.49 140.06,514.81 145.07,514.81 145.07,506.89 150.07,506.89 150.07,497.51 155.08,497.51 155.08,481.90 160.08,481.90 160.08,470.45 165.09,470.45 165.09,458.56 170.10,458.56 170.10,446.47 175.10,446.47 175.10,435.66 180.11,435.66 180.11,426.69 185.11,426.69 185.11,425.23 190.12,425.23 190.12,424.59 195.13,424.59 195.13,425.64 200.13,425.64 200.13,426.28 205.14,426.28 205.14,435.66 210.14,435.66 210.14,446.47 215.15,446.47 215.15,458.56 220.16,458.56 220.16,475.25 225.16,475.25 225.16,482.31 230.17,482.31 230.17,493.38 235.17,493.38 235.17,502.31 240.18,502.31 240.18,510.65 245.19,510.65 245.19,515.64 250.19,515.64 250.19,520.85 255.20,520.85 255.20,523.14 260.20,523.14 260.20,526.70 265.21,526.70 265.21,528.77 270.22,528.77 270.22,530.87 275.22,530.87 275.22,531.89 280.23,531.89 280.23,532.94 285.23,532.94 285.23,533.57 290.24,533.57 290.24,533.99 295.25,533.99 295.25,534.15 300.25,534.15 300.25,534.21 305.26,534.21 305.26,534.27 310.26,534.27 310.26,534.30 315.27,534.30 315.27,534.34 320.28,534.34 320.28,534.34 325.28,534.34 325.28,534.37 330.29,534.37 330.29,534.37 335.29,534.37 335.29,534.37 340.30,534.37" fill="none" stroke="rgb(205,205,205)" stroke-width="1" stroke-opacity="0.75"/>
<rect x="336.3" y="502.8" width="6.3" height="33.9" fill="#000"/>
<rect x="755.1" y="361.9" width="5.95" height="175" fill="#ff0000"/>
<path d="M103.3,399.5 H124" stroke="rgb(215,215,215)" stroke-width="1.6" fill="none"/>
<text transform="translate(132.1,403.75) scale(1,1.06)" font-size="12" text-anchor="start" textLength="279.3" lengthAdjust="spacing" >red line: the drop (B - A) extracted from lightcurve</text>
<path d="M103.3,421.5 H124" stroke="rgb(215,215,215)" stroke-width="1.6" fill="none"/>
<text transform="translate(132.1,425.75) scale(1,1.06)" font-size="12" text-anchor="start" textLength="326.6" lengthAdjust="spacing" >black line: max drop found in 50000 trials against pure noise</text>
<path d="M103.3,443.5 H124" stroke="rgb(215,215,215)" stroke-width="1.6" fill="none"/>
<text transform="translate(132.1,447.75) scale(1,1.06)" font-size="12" text-anchor="start" textLength="374.2" lengthAdjust="spacing" >If the red line is to the right of the black line, false positive prob = 0</text>
<rect x="64.5" y="349.5" width="723" height="201" fill="none" stroke="#000" stroke-width="1"/>
<path d="M79.5,550 V544" stroke="#000" stroke-width="1" fill="none"/>
<text x="78.5" y="563" font-size="10.9" text-anchor="middle" >0</text>
<path d="M177.5,550 V547" stroke="#8c8c8c" stroke-width="1" fill="none"/>
<text x="176.9" y="563" font-size="10.9" text-anchor="middle" textLength="30" lengthAdjust="spacing" >20000</text>
<path d="M276.5,550 V547" stroke="#8c8c8c" stroke-width="1" fill="none"/>
<text x="275.3" y="563" font-size="10.9" text-anchor="middle" textLength="30" lengthAdjust="spacing" >40000</text>
<path d="M374.5,550 V547" stroke="#8c8c8c" stroke-width="1" fill="none"/>
<text x="373.8" y="563" font-size="10.9" text-anchor="middle" textLength="30" lengthAdjust="spacing" >60000</text>
<path d="M473.5,550 V547" stroke="#8c8c8c" stroke-width="1" fill="none"/>
<text x="472.2" y="563" font-size="10.9" text-anchor="middle" textLength="30" lengthAdjust="spacing" >80000</text>
<path d="M571.5,550 V546" stroke="#505050" stroke-width="1" fill="none"/>
<text x="570.6" y="563" font-size="10.9" text-anchor="middle" textLength="36" lengthAdjust="spacing" >100000</text>
<path d="M670.5,550 V547" stroke="#8c8c8c" stroke-width="1" fill="none"/>
<text x="669.0" y="563" font-size="10.9" text-anchor="middle" textLength="36" lengthAdjust="spacing" >120000</text>
<path d="M768.5,550 V547" stroke="#8c8c8c" stroke-width="1" fill="none"/>
<text x="767.4" y="563" font-size="10.9" text-anchor="middle" textLength="36" lengthAdjust="spacing" >140000</text>
<path d="M64,534.5 H70" stroke="#000" stroke-width="1" fill="none"/>
<text x="58.9" y="539.0" font-size="10.9" text-anchor="end" >0</text>
<path d="M65,502.5 H68" stroke="#8c8c8c" stroke-width="1" fill="none"/>
<text x="58.9" y="507.2" font-size="10.9" text-anchor="end" textLength="24" lengthAdjust="spacing" >1000</text>
<path d="M65,470.5 H69" stroke="#505050" stroke-width="1" fill="none"/>
<text x="58.9" y="475.4" font-size="10.9" text-anchor="end" textLength="24" lengthAdjust="spacing" >2000</text>
<path d="M65,438.5 H68" stroke="#8c8c8c" stroke-width="1" fill="none"/>
<text x="58.9" y="443.6" font-size="10.9" text-anchor="end" textLength="24" lengthAdjust="spacing" >3000</text>
<path d="M65,407.5 H69" stroke="#505050" stroke-width="1" fill="none"/>
<text x="58.9" y="411.8" font-size="10.9" text-anchor="end" textLength="24" lengthAdjust="spacing" >4000</text>
<path d="M65,375.5 H68" stroke="#8c8c8c" stroke-width="1" fill="none"/>
<text x="58.9" y="380.0" font-size="10.9" text-anchor="end" textLength="24" lengthAdjust="spacing" >5000</text>
<text transform="translate(422.5,584.6) scale(1,1.08)" font-size="10.67" text-anchor="middle" >drop size</text>
<text transform="translate(22,540.7) rotate(-90) scale(1,1.08)" font-size="10.67" textLength="179.4" lengthAdjust="spacing">number of times noise produced drop</text>
<text transform="translate(209.6,339.3) scale(1,1.06)" font-size="14.67" text-anchor="start" textLength="431.9" lengthAdjust="spacing" >Distribution of drops found in correlated noise for event duration: 7</text>
</svg></body></html>
